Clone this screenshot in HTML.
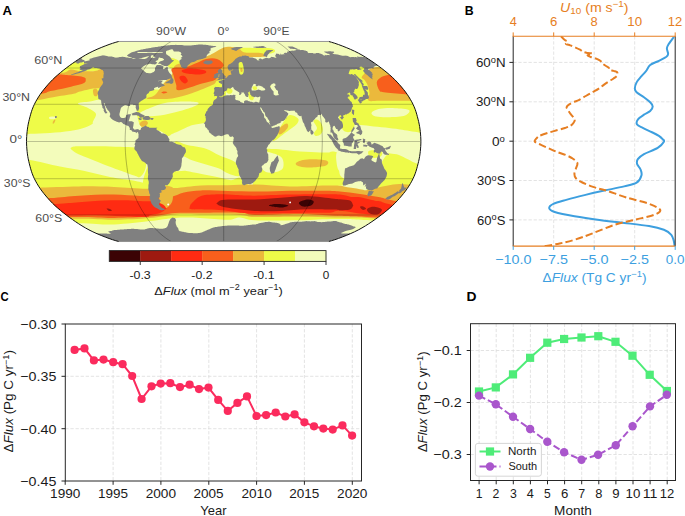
<!DOCTYPE html>
<html><head><meta charset="utf-8"><style>
html,body{margin:0;padding:0;background:#fff;width:685px;height:516px;overflow:hidden}
svg{display:block;font-family:"Liberation Sans",sans-serif}
</style></head><body>
<svg width="685" height="516" viewBox="0 0 685 516" font-family="Liberation Sans, sans-serif">
<defs><clipPath id="mc"><path d="M328.65 241.52 331.53 240.74 334.79 239.72 338.36 238.49 342.19 237.06 346.22 235.46 350.37 233.71 354.47 231.84 358.36 229.90 361.98 227.91 365.41 225.87 368.71 223.77 371.93 221.63 375.08 219.45 378.17 217.23 381.18 214.97 384.12 212.69 386.97 210.37 389.73 208.03 392.36 205.66 394.85 203.27 397.17 200.86 399.37 198.44 401.48 196.00 403.52 193.55 405.44 191.09 407.21 188.62 408.83 186.15 410.34 183.67 411.74 181.19 413.01 178.71 414.14 176.23 415.13 173.75 415.98 171.27 416.72 168.79 417.39 166.30 418.04 163.82 418.65 161.34 419.18 158.86 419.63 156.38 419.99 153.90 420.29 151.42 420.53 148.94 420.71 146.46 420.83 143.98 420.90 141.50 420.83 139.02 420.71 136.54 420.53 134.06 420.29 131.58 419.99 129.10 419.63 126.62 419.18 124.14 418.65 121.66 418.04 119.18 417.39 116.70 416.72 114.21 415.98 111.73 415.13 109.25 414.14 106.77 413.01 104.29 411.74 101.81 410.34 99.33 408.83 96.85 407.21 94.38 405.44 91.91 403.52 89.45 401.48 87.00 399.37 84.56 397.17 82.14 394.85 79.73 392.36 77.34 389.73 74.97 386.97 72.63 384.12 70.31 381.18 68.03 378.17 65.77 375.08 63.55 371.93 61.37 368.71 59.23 365.41 57.13 361.98 55.09 358.36 53.10 354.47 51.16 350.37 49.29 346.22 47.54 342.19 45.94 338.36 44.51 334.79 43.28 331.53 42.26 328.65 41.48 118.75 41.48 115.87 42.26 112.61 43.28 109.04 44.51 105.21 45.94 101.18 47.54 97.03 49.29 92.93 51.16 89.04 53.10 85.42 55.09 81.99 57.13 78.69 59.23 75.47 61.37 72.32 63.55 69.23 65.77 66.22 68.03 63.28 70.31 60.43 72.63 57.67 74.97 55.04 77.34 52.55 79.73 50.23 82.14 48.03 84.56 45.92 87.00 43.88 89.45 41.96 91.91 40.19 94.38 38.57 96.85 37.06 99.33 35.66 101.81 34.39 104.29 33.26 106.77 32.27 109.25 31.42 111.73 30.68 114.21 30.01 116.70 29.36 119.18 28.75 121.66 28.22 124.14 27.77 126.62 27.41 129.10 27.11 131.58 26.87 134.06 26.69 136.54 26.57 139.02 26.50 141.50 26.57 143.98 26.69 146.46 26.87 148.94 27.11 151.42 27.41 153.90 27.77 156.38 28.22 158.86 28.75 161.34 29.36 163.82 30.01 166.30 30.68 168.79 31.42 171.27 32.27 173.75 33.26 176.23 34.39 178.71 35.66 181.19 37.06 183.67 38.57 186.15 40.19 188.62 41.96 191.09 43.88 193.55 45.92 196.00 48.03 198.44 50.23 200.86 52.55 203.27 55.04 205.66 57.67 208.03 60.43 210.37 63.28 212.69 66.22 214.97 69.23 217.23 72.32 219.45 75.47 221.63 78.69 223.77 81.99 225.87 85.42 227.91 89.04 229.90 92.93 231.84 97.03 233.71 101.18 235.46 105.21 237.06 109.04 238.49 112.61 239.72 115.87 240.74 118.75 241.52Z"/></clipPath></defs>
<g clip-path="url(#mc)">
<path d="M328.65 241.52 331.53 240.74 334.79 239.72 338.36 238.49 342.19 237.06 346.22 235.46 350.37 233.71 354.47 231.84 358.36 229.90 361.98 227.91 365.41 225.87 368.71 223.77 371.93 221.63 375.08 219.45 378.17 217.23 381.18 214.97 384.12 212.69 386.97 210.37 389.73 208.03 392.36 205.66 394.85 203.27 397.17 200.86 399.37 198.44 401.48 196.00 403.52 193.55 405.44 191.09 407.21 188.62 408.83 186.15 410.34 183.67 411.74 181.19 413.01 178.71 414.14 176.23 415.13 173.75 415.98 171.27 416.72 168.79 417.39 166.30 418.04 163.82 418.65 161.34 419.18 158.86 419.63 156.38 419.99 153.90 420.29 151.42 420.53 148.94 420.71 146.46 420.83 143.98 420.90 141.50 420.83 139.02 420.71 136.54 420.53 134.06 420.29 131.58 419.99 129.10 419.63 126.62 419.18 124.14 418.65 121.66 418.04 119.18 417.39 116.70 416.72 114.21 415.98 111.73 415.13 109.25 414.14 106.77 413.01 104.29 411.74 101.81 410.34 99.33 408.83 96.85 407.21 94.38 405.44 91.91 403.52 89.45 401.48 87.00 399.37 84.56 397.17 82.14 394.85 79.73 392.36 77.34 389.73 74.97 386.97 72.63 384.12 70.31 381.18 68.03 378.17 65.77 375.08 63.55 371.93 61.37 368.71 59.23 365.41 57.13 361.98 55.09 358.36 53.10 354.47 51.16 350.37 49.29 346.22 47.54 342.19 45.94 338.36 44.51 334.79 43.28 331.53 42.26 328.65 41.48 118.75 41.48 115.87 42.26 112.61 43.28 109.04 44.51 105.21 45.94 101.18 47.54 97.03 49.29 92.93 51.16 89.04 53.10 85.42 55.09 81.99 57.13 78.69 59.23 75.47 61.37 72.32 63.55 69.23 65.77 66.22 68.03 63.28 70.31 60.43 72.63 57.67 74.97 55.04 77.34 52.55 79.73 50.23 82.14 48.03 84.56 45.92 87.00 43.88 89.45 41.96 91.91 40.19 94.38 38.57 96.85 37.06 99.33 35.66 101.81 34.39 104.29 33.26 106.77 32.27 109.25 31.42 111.73 30.68 114.21 30.01 116.70 29.36 119.18 28.75 121.66 28.22 124.14 27.77 126.62 27.41 129.10 27.11 131.58 26.87 134.06 26.69 136.54 26.57 139.02 26.50 141.50 26.57 143.98 26.69 146.46 26.87 148.94 27.11 151.42 27.41 153.90 27.77 156.38 28.22 158.86 28.75 161.34 29.36 163.82 30.01 166.30 30.68 168.79 31.42 171.27 32.27 173.75 33.26 176.23 34.39 178.71 35.66 181.19 37.06 183.67 38.57 186.15 40.19 188.62 41.96 191.09 43.88 193.55 45.92 196.00 48.03 198.44 50.23 200.86 52.55 203.27 55.04 205.66 57.67 208.03 60.43 210.37 63.28 212.69 66.22 214.97 69.23 217.23 72.32 219.45 75.47 221.63 78.69 223.77 81.99 225.87 85.42 227.91 89.04 229.90 92.93 231.84 97.03 233.71 101.18 235.46 105.21 237.06 109.04 238.49 112.61 239.72 115.87 240.74 118.75 241.52Z" fill="#f3fcbb"/>
<path d="M15.0 60.0C22.5 47.7 49.2 59.0 60.0 60.0C70.8 61.0 73.3 62.7 80.0 66.0C86.7 69.3 96.2 75.2 100.0 80.0C103.8 84.8 103.0 90.8 103.0 95.0C103.0 99.2 101.2 101.2 100.0 105.0C98.8 108.8 97.2 115.0 96.0 118.0C94.8 121.0 94.8 121.7 93.0 123.3C91.2 124.9 88.8 126.2 85.0 127.5C81.2 128.8 75.8 130.1 70.0 131.0C64.2 131.9 56.7 132.5 50.0 133.0C43.3 133.5 35.8 133.6 30.0 133.8C24.2 134.0 17.5 146.3 15.0 134.0C12.5 121.7 7.5 72.3 15.0 60.0Z" fill="#eefb48"/>
<path d="M340.0 90.0C355.0 85.0 415.0 82.8 430.0 90.0C445.0 97.2 431.9 126.4 430.0 133.5C428.1 140.6 423.8 133.1 418.8 132.4C413.8 131.7 405.6 130.3 400.0 129.5C394.4 128.7 390.5 128.2 385.5 127.6C380.5 127.0 374.6 126.5 370.0 126.0C365.4 125.5 361.4 125.1 357.7 124.8C354.0 124.5 350.9 124.8 348.0 124.0C345.1 123.2 341.3 125.7 340.0 120.0C338.7 114.3 325.0 95.0 340.0 90.0Z" fill="#eefb48"/>
<path d="M340.0 112.0C342.0 110.5 349.5 111.3 352.0 113.0C354.5 114.7 355.0 119.0 355.0 122.0C355.0 125.0 353.8 129.5 352.0 131.0C350.2 132.5 346.0 132.5 344.0 131.0C342.0 129.5 340.7 125.2 340.0 122.0C339.3 118.8 338.0 113.5 340.0 112.0Z" fill="#eefb48"/>
<path d="M140.0 92.0C145.8 86.2 164.2 91.3 175.0 90.0C185.8 88.7 198.3 86.0 205.0 84.0C211.7 82.0 211.7 79.0 215.0 78.0C218.3 77.0 223.5 71.8 225.0 78.0C226.5 84.2 226.5 107.7 224.0 115.0C221.5 122.3 213.3 120.7 210.0 122.0C206.7 123.3 206.9 122.5 204.0 123.0C201.1 123.5 195.8 124.2 192.8 125.0C189.9 125.8 188.8 126.5 186.3 127.6C183.8 128.7 180.4 130.4 178.0 131.5C175.6 132.6 173.7 133.2 172.0 134.0C170.3 134.8 170.0 136.5 168.0 136.0C166.0 135.5 164.7 132.8 160.0 131.0C155.3 129.2 143.3 131.5 140.0 125.0C136.7 118.5 134.2 97.8 140.0 92.0Z" fill="#eefb48"/>
<path d="M272.6 140.7C272.5 139.8 274.6 136.4 276.0 134.0C277.4 131.6 279.1 128.9 281.0 126.0C282.9 123.0 285.6 118.0 287.6 116.3C289.6 114.5 291.2 115.0 293.0 115.5C294.8 116.0 297.7 117.6 298.4 119.0C299.1 120.4 298.2 122.3 297.1 123.8C296.0 125.3 293.6 126.8 292.0 128.0C290.4 129.2 289.4 129.9 287.6 131.2C285.8 132.5 282.8 134.6 281.0 136.0C279.2 137.4 278.1 138.6 276.7 139.4C275.3 140.2 272.7 141.6 272.6 140.7Z" fill="#eefb48"/>
<path d="M313.4 121.0C313.4 119.6 315.7 119.2 317.0 119.5C318.3 119.8 320.0 121.4 321.0 123.0C322.0 124.6 322.9 127.2 322.9 129.0C322.9 130.8 322.1 132.8 321.0 134.0C319.9 135.2 317.2 136.2 316.0 136.0C314.8 135.8 313.8 134.3 314.0 133.0C314.2 131.7 317.1 130.0 317.0 128.0C316.9 126.0 313.4 122.4 313.4 121.0Z" fill="#eefb48"/>
<path d="M70.5 148.3C70.6 147.5 72.4 146.9 74.0 146.6C75.6 146.3 75.7 146.4 80.0 146.3C84.3 146.2 93.3 146.1 100.0 146.2C106.7 146.3 114.2 146.6 120.0 146.8C125.8 147.0 131.3 147.0 135.0 147.5C138.7 148.0 140.2 147.9 142.0 150.0C143.8 152.1 145.5 156.7 146.0 160.0C146.5 163.3 146.0 167.2 145.0 170.0C144.0 172.8 141.6 176.0 140.0 177.0C138.4 178.0 138.8 177.1 135.5 176.0C132.2 174.9 124.2 172.0 120.0 170.5C115.8 169.0 114.2 168.4 110.0 166.8C105.8 165.2 99.5 162.6 94.7 160.7C89.9 158.8 84.5 156.9 81.0 155.3C77.5 153.7 75.2 152.4 73.5 151.2C71.8 150.0 70.4 149.1 70.5 148.3Z" fill="#eefb48"/>
<path d="M15.0 159.0C17.5 153.2 22.5 158.8 30.0 160.0C37.5 161.2 50.9 164.7 60.0 166.5C69.1 168.3 76.4 169.2 84.7 171.0C93.0 172.8 101.5 175.3 110.0 177.0C118.5 178.7 129.5 179.7 135.5 181.0C141.5 182.3 144.2 182.7 146.0 185.0C147.8 187.3 167.8 193.3 146.0 195.0C124.2 196.7 36.8 201.0 15.0 195.0C-6.8 189.0 12.5 164.8 15.0 159.0Z" fill="#eefb48"/>
<path d="M160.0 150.0C163.0 148.7 165.8 148.7 168.0 152.0C170.2 155.3 170.0 166.5 173.1 169.7C176.2 172.9 181.9 170.3 186.3 171.0C190.7 171.7 193.9 172.5 199.4 173.6C204.9 174.7 213.8 176.5 219.1 177.6C224.4 178.7 227.5 180.1 231.0 180.2C234.5 180.3 238.2 176.4 240.0 178.0C241.8 179.6 257.0 187.2 242.0 190.0C227.0 192.8 165.3 200.0 150.0 195.0C134.7 190.0 148.3 167.5 150.0 160.0C151.7 152.5 157.0 151.3 160.0 150.0Z" fill="#eefb48"/>
<path d="M175.8 141.4C177.9 140.8 181.3 143.5 186.3 144.7C191.3 145.9 200.5 146.9 206.0 148.7C211.5 150.4 214.7 153.2 219.1 155.2C223.5 157.2 229.2 159.0 232.3 160.5C235.4 162.0 235.9 162.8 237.5 164.4C239.1 166.0 241.8 168.0 242.0 170.0C242.2 172.0 241.1 175.6 238.8 176.2C236.5 176.8 231.6 174.9 228.3 173.6C225.0 172.3 222.8 169.9 219.1 168.4C215.4 166.9 210.4 165.7 206.0 164.4C201.6 163.1 196.8 162.0 192.8 160.5C188.9 159.0 185.4 157.3 182.3 155.2C179.2 153.1 175.1 150.3 174.0 148.0C172.9 145.7 173.8 142.0 175.8 141.4Z" fill="#eefb48"/>
<path d="M383.0 160.0C385.0 156.3 386.8 155.1 388.0 154.0C389.2 152.9 388.6 153.3 390.4 153.5C392.2 153.7 396.1 154.0 399.0 155.0C401.9 156.0 404.9 157.9 407.8 159.3C410.7 160.7 412.9 162.3 416.6 163.6C420.3 164.9 427.8 162.3 430.0 167.0C432.2 171.7 440.0 187.8 430.0 192.0C420.0 196.2 379.0 194.7 370.0 192.0C361.0 189.3 373.8 181.3 376.0 176.0C378.2 170.7 381.0 163.7 383.0 160.0Z" fill="#eefb48"/>
<path d="M368.6 151.0C369.6 150.1 372.8 150.2 375.0 150.3C377.2 150.4 380.8 150.5 381.8 151.5C382.8 152.5 382.3 155.2 381.0 156.3C379.7 157.4 376.0 158.1 374.0 158.0C372.0 157.9 369.9 156.7 369.0 155.5C368.1 154.3 367.6 151.9 368.6 151.0Z" fill="#eefb48"/>
<path d="M237.0 67.0C237.7 65.8 239.8 64.8 241.0 64.5C242.2 64.2 243.7 64.2 244.5 65.0C245.3 65.8 246.1 67.4 246.0 69.0C245.9 70.6 245.1 73.5 244.0 74.5C242.9 75.5 240.7 75.4 239.5 75.0C238.3 74.6 237.4 73.3 237.0 72.0C236.6 70.7 236.3 68.2 237.0 67.0Z" fill="#eefb48"/>
<path d="M262.0 152.0C265.0 147.7 266.6 149.1 272.9 149.0C279.2 148.9 292.1 151.0 300.0 151.6C307.9 152.2 314.1 152.2 320.0 152.5C325.9 152.8 332.1 152.2 335.1 153.4C338.1 154.7 337.2 156.4 338.0 160.0C338.8 163.6 338.8 170.8 340.0 175.0C341.2 179.2 358.0 182.5 345.0 185.0C332.0 187.5 277.0 191.7 262.0 190.0C247.0 188.3 255.0 181.3 255.0 175.0C255.0 168.7 259.0 156.3 262.0 152.0Z" fill="#eefb48"/>
<path d="M330.0 152.0C331.3 150.8 336.7 151.7 338.0 153.0C339.3 154.3 339.3 158.8 338.0 160.0C336.7 161.2 331.3 161.3 330.0 160.0C328.7 158.7 328.7 153.2 330.0 152.0Z" fill="#eefb48"/>
<path d="M62.0 64.0C63.4 62.4 70.3 62.2 75.0 62.0C79.7 61.8 85.8 62.3 90.0 63.0C94.2 63.7 98.2 64.8 100.0 66.0C101.8 67.2 102.7 69.1 101.0 70.0C99.3 70.9 93.5 71.2 90.0 71.5C86.5 71.8 83.9 72.0 80.0 72.0C76.1 72.0 69.7 72.8 66.7 71.5C63.7 70.2 60.6 65.6 62.0 64.0Z" fill="#eefb48"/>
<path d="M165.0 60.0C165.3 58.3 169.5 57.7 172.0 58.0C174.5 58.3 179.0 60.3 180.0 62.0C181.0 63.7 179.7 67.0 178.0 68.0C176.3 69.0 172.2 69.3 170.0 68.0C167.8 66.7 164.7 61.7 165.0 60.0Z" fill="#eefb48"/>
<path d="M236.0 48.5C238.5 47.4 249.0 48.0 255.0 48.0C261.0 48.0 268.8 47.8 272.0 48.5C275.2 49.2 276.0 51.5 274.0 52.5C272.0 53.5 265.7 54.2 260.0 54.5C254.3 54.8 244.0 55.5 240.0 54.5C236.0 53.5 233.5 49.6 236.0 48.5Z" fill="#eefb48"/>
<path d="M348.0 66.0C350.2 63.3 359.5 62.7 363.0 64.0C366.5 65.3 368.2 70.5 369.0 74.0C369.8 77.5 368.5 81.5 368.0 85.0C367.5 88.5 367.3 92.8 366.0 95.0C364.7 97.2 362.3 98.5 360.0 98.0C357.7 97.5 353.7 95.0 352.0 92.0C350.3 89.0 350.7 84.3 350.0 80.0C349.3 75.7 345.8 68.7 348.0 66.0Z" fill="#eefb48"/>
<path d="M226.0 89.0C226.5 88.2 228.9 87.8 230.0 88.0C231.1 88.2 232.3 89.6 232.5 90.5C232.7 91.4 231.9 93.1 231.0 93.5C230.1 93.9 227.8 93.8 227.0 93.0C226.2 92.2 225.5 89.8 226.0 89.0Z" fill="#eefb48"/>
<path d="M248.0 92.5C248.3 91.3 250.5 91.4 251.5 92.0C252.5 92.6 253.8 94.7 254.0 96.0C254.2 97.3 253.8 99.5 253.0 100.0C252.2 100.5 250.3 100.2 249.5 99.0C248.7 97.8 247.7 93.7 248.0 92.5Z" fill="#eefb48"/>
<path d="M252.5 87.0C252.8 86.4 255.2 86.2 256.0 86.5C256.8 86.8 257.3 88.4 257.0 89.0C256.7 89.6 254.8 90.3 254.0 90.0C253.2 89.7 252.2 87.6 252.5 87.0Z" fill="#eefb48"/>
<path d="M267.0 84.0C267.2 83.1 268.9 82.8 269.5 83.5C270.1 84.2 270.8 87.1 270.5 88.0C270.2 88.9 268.6 89.7 268.0 89.0C267.4 88.3 266.8 84.9 267.0 84.0Z" fill="#eefb48"/>
<path d="M78.0 103.5C78.3 102.4 85.8 102.1 90.0 101.5C94.2 100.9 99.7 98.6 103.0 100.0C106.3 101.4 109.7 106.3 110.0 110.0C110.3 113.7 107.8 119.8 105.0 122.0C102.2 124.2 94.5 124.6 93.0 123.3C91.5 122.0 96.8 116.5 96.0 114.0C95.2 111.5 91.0 109.8 88.0 108.0C85.0 106.2 77.7 104.6 78.0 103.5Z" fill="#f3fcbb"/>
<path d="M140.0 113.0C140.8 111.7 145.8 109.7 150.0 108.0C154.2 106.3 159.2 104.1 165.0 103.0C170.8 101.9 179.5 101.6 185.0 101.5C190.5 101.4 196.3 101.8 198.0 102.5C199.7 103.2 198.0 104.6 195.0 106.0C192.0 107.4 185.8 109.4 180.0 111.0C174.2 112.6 165.8 114.7 160.0 115.5C154.2 116.3 148.3 116.4 145.0 116.0C141.7 115.6 139.2 114.3 140.0 113.0Z" fill="#f3fcbb"/>
<path d="M371.6 112.7C372.3 111.4 376.1 109.5 380.0 108.8C383.9 108.0 390.2 108.0 395.0 108.2C399.8 108.4 407.3 108.8 409.0 110.0C410.7 111.2 408.2 114.3 405.0 115.5C401.8 116.7 394.8 117.0 390.0 117.2C385.2 117.4 379.1 117.2 376.0 116.5C372.9 115.8 370.9 114.0 371.6 112.7Z" fill="#f3fcbb"/>
<path d="M262.0 152.0C264.0 150.0 268.7 152.0 272.0 153.0C275.3 154.0 280.2 155.5 282.0 158.0C283.8 160.5 284.0 165.7 283.0 168.0C282.0 170.3 278.8 171.3 276.0 172.0C273.2 172.7 268.7 173.2 266.0 172.0C263.3 170.8 260.7 168.3 260.0 165.0C259.3 161.7 260.0 154.0 262.0 152.0Z" fill="#f3fcbb"/>
<path d="M336.9 152.5C338.1 150.8 342.6 150.2 344.0 152.0C345.4 153.8 345.2 159.8 345.0 163.0C344.8 166.2 344.1 169.8 343.0 171.0C341.9 172.2 339.6 171.5 338.5 170.0C337.4 168.5 336.8 164.9 336.5 162.0C336.2 159.1 335.6 154.2 336.9 152.5Z" fill="#f3fcbb"/>
<path d="M15.0 60.0C22.2 54.9 49.2 70.9 58.5 72.5C67.8 74.1 67.1 69.7 70.7 69.5C74.3 69.3 76.0 71.0 80.0 71.2C84.0 71.5 91.0 71.4 95.0 71.0C99.0 70.6 102.0 67.5 104.0 69.0C106.0 70.5 107.2 77.2 107.0 80.0C106.8 82.8 104.3 84.7 103.0 86.0C101.7 87.3 100.7 87.6 99.0 88.0C97.3 88.4 96.2 87.9 93.0 88.5C89.8 89.1 83.2 90.6 80.0 91.5C76.8 92.4 78.0 92.8 73.5 93.8C69.0 94.8 59.4 96.1 53.1 97.2C46.8 98.3 41.9 99.6 35.5 100.6C29.1 101.6 18.4 109.8 15.0 103.0C11.6 96.2 7.8 65.1 15.0 60.0Z" fill="#ebb93c"/>
<path d="M93.0 90.0C93.3 88.8 95.2 88.2 96.0 88.5C96.8 88.8 97.8 90.8 98.0 92.0C98.2 93.2 97.7 95.4 97.0 96.0C96.3 96.6 94.7 96.5 94.0 95.5C93.3 94.5 92.7 91.2 93.0 90.0Z" fill="#ebb93c"/>
<path d="M362.0 76.5C363.4 74.4 368.2 68.9 372.9 67.5C377.6 66.1 380.5 67.6 390.0 68.0C399.5 68.4 423.3 64.5 430.0 70.0C436.7 75.5 433.1 95.9 430.0 101.0C426.9 106.1 420.0 100.8 411.7 100.8C403.4 100.8 387.2 100.8 380.0 100.8C372.8 100.8 370.2 101.8 368.5 100.5C366.8 99.2 369.7 95.6 369.5 93.0C369.3 90.4 368.3 87.2 367.5 85.0C366.7 82.8 365.4 81.4 364.5 80.0C363.6 78.6 360.6 78.6 362.0 76.5Z" fill="#ebb93c"/>
<path d="M146.4 98.4C146.4 97.7 152.3 97.3 155.0 95.0C157.7 92.7 159.8 88.3 162.6 84.8C165.4 81.3 170.0 77.2 172.1 74.0C174.2 70.8 172.8 67.8 174.9 65.8C177.1 63.8 180.2 63.4 185.0 62.0C189.8 60.6 198.8 59.0 203.4 57.6C208.1 56.2 209.5 55.3 212.9 53.6C216.3 51.9 220.5 48.6 223.7 47.5C226.9 46.4 229.3 46.8 231.9 47.0C234.5 47.2 236.8 47.9 239.0 48.8C241.2 49.7 241.2 51.8 245.0 52.5C248.8 53.2 258.7 52.5 262.0 53.2C265.3 53.9 267.8 55.7 265.0 56.5C262.2 57.3 250.5 56.6 245.0 58.0C239.5 59.4 234.8 62.2 232.0 65.0C229.2 67.8 230.5 72.4 228.0 75.0C225.5 77.6 219.5 79.1 217.0 80.7C214.5 82.3 217.0 82.8 212.9 84.8C208.8 86.8 199.3 90.6 192.5 92.9C185.7 95.2 178.2 97.4 172.0 98.4C165.8 99.4 159.3 99.0 155.0 99.0C150.7 99.0 146.4 99.1 146.4 98.4Z" fill="#ebb93c"/>
<path d="M221.0 62.0C222.8 60.2 229.3 60.7 232.0 61.0C234.7 61.3 236.0 62.3 237.0 64.0C238.0 65.7 238.5 68.7 238.0 71.0C237.5 73.3 236.2 76.5 234.0 78.0C231.8 79.5 227.2 81.0 225.0 80.0C222.8 79.0 221.7 75.0 221.0 72.0C220.3 69.0 219.2 63.8 221.0 62.0Z" fill="#ebb93c"/>
<path d="M278.0 131.0C278.4 129.6 280.5 127.2 282.0 126.0C283.5 124.8 286.0 123.3 287.0 123.5C288.0 123.7 288.5 125.6 288.0 127.0C287.5 128.4 285.4 130.8 284.0 132.0C282.6 133.2 280.5 134.7 279.5 134.5C278.5 134.3 277.6 132.4 278.0 131.0Z" fill="#ebb93c"/>
<path d="M295.7 163.5C296.2 162.4 299.8 160.7 303.0 160.0C306.2 159.3 311.0 159.1 315.0 159.3C319.0 159.5 325.4 160.0 327.2 161.0C329.0 162.0 328.5 164.4 326.0 165.5C323.5 166.6 316.3 167.2 312.0 167.4C307.7 167.6 302.7 167.2 300.0 166.5C297.3 165.8 295.2 164.6 295.7 163.5Z" fill="#ebb93c"/>
<path d="M139.5 123.8C139.6 122.9 141.0 121.7 142.0 121.2C143.0 120.7 144.5 120.3 145.5 120.6C146.5 120.9 148.0 122.0 148.0 123.0C148.0 124.0 146.6 125.7 145.5 126.3C144.4 126.9 142.5 126.9 141.5 126.5C140.5 126.1 139.4 124.7 139.5 123.8Z" fill="#ebb93c"/>
<path d="M10.0 200.0C81.7 196.3 368.3 195.8 440.0 200.0C511.7 204.2 452.2 221.7 440.0 225.0C427.8 228.3 384.5 221.0 367.0 220.0C349.5 219.0 346.2 218.9 335.0 218.9C323.8 218.9 313.3 220.0 300.0 220.2C286.7 220.4 265.0 220.7 255.0 220.2C245.0 219.7 244.5 217.5 240.0 217.4C235.5 217.3 234.7 219.6 228.0 219.7C221.3 219.8 208.8 218.2 200.0 217.9C191.2 217.6 183.3 217.4 175.0 217.9C166.7 218.4 160.2 219.9 150.0 221.0C139.8 222.1 125.8 224.0 114.0 224.4C102.2 224.8 96.3 223.6 79.0 223.2C61.7 222.8 21.5 225.9 10.0 222.0C-1.5 218.1 -61.7 203.7 10.0 200.0Z" fill="#eefb48"/>
<path d="M10.0 187.0C14.3 181.8 24.5 187.7 36.0 187.6C47.5 187.5 66.0 186.5 79.0 186.4C92.0 186.3 102.8 186.5 114.0 186.9C125.2 187.3 138.3 188.5 146.0 188.7C153.7 188.9 155.2 188.1 160.0 188.0C164.8 187.9 168.2 188.5 175.0 188.1C181.8 187.7 192.2 186.0 201.0 185.5C209.8 185.0 219.0 185.3 228.0 185.2C237.0 185.0 244.7 184.4 255.0 184.6C265.3 184.8 278.3 186.2 290.0 186.4C301.7 186.6 317.5 185.6 325.0 185.5C332.5 185.4 332.2 185.5 335.0 185.6C337.8 185.7 340.2 185.8 342.0 186.0C343.8 186.2 344.2 186.7 346.0 187.0C347.8 187.3 350.7 187.7 353.0 188.1C355.3 188.5 357.8 188.8 360.0 189.2C362.2 189.5 364.0 190.2 366.0 190.2C368.0 190.2 370.0 189.4 372.0 189.0C374.0 188.6 375.3 188.1 378.0 187.5C380.7 186.9 384.3 186.1 388.0 185.5C391.7 184.9 394.7 183.9 400.0 184.0C405.3 184.1 413.3 185.0 420.0 186.0C426.7 187.0 436.7 184.0 440.0 190.0C443.3 196.0 452.2 217.3 440.0 222.0C427.8 226.7 384.5 218.8 367.0 218.0C349.5 217.2 346.2 217.7 335.0 217.5C323.8 217.3 313.3 216.9 300.0 216.8C286.7 216.7 265.0 217.3 255.0 217.0C245.0 216.7 249.2 215.3 240.0 214.9C230.8 214.5 210.8 214.5 200.0 214.4C189.2 214.3 183.3 213.8 175.0 214.4C166.7 215.0 160.2 217.1 150.0 218.0C139.8 218.9 125.8 219.6 114.0 219.7C102.2 219.8 96.3 218.9 79.0 218.8C61.7 218.7 21.5 224.3 10.0 219.0C-1.5 213.7 5.7 192.2 10.0 187.0Z" fill="#ebb93c"/>
<path d="M15.0 92.0C19.3 96.0 35.0 94.0 40.9 93.8C46.8 93.6 46.1 92.1 50.4 91.1C54.7 90.1 61.3 89.0 66.7 87.7C72.1 86.5 79.8 84.9 83.0 83.6C86.2 82.2 85.7 80.7 85.7 79.6C85.7 78.5 86.2 77.7 83.0 76.9C79.8 76.2 70.8 75.5 66.7 75.1C62.6 74.6 63.0 74.7 58.5 74.2C54.0 73.7 47.2 72.7 40.0 72.0C32.8 71.3 19.2 66.7 15.0 70.0C10.8 73.3 10.7 88.0 15.0 92.0Z" fill="#f85f1c"/>
<path d="M376.8 82.2C377.1 80.1 379.0 78.8 380.7 77.6C382.4 76.4 383.7 75.8 386.9 75.2C390.1 74.6 392.8 73.9 400.0 74.0C407.2 74.1 425.0 72.3 430.0 76.0C435.0 79.7 434.1 93.0 430.0 96.0C425.9 99.0 413.2 94.9 405.5 94.3C397.8 93.7 388.2 93.0 383.8 92.3C379.4 91.6 380.3 91.7 379.1 90.0C377.9 88.3 376.5 84.3 376.8 82.2Z" fill="#f85f1c"/>
<path d="M172.1 68.5C174.1 67.1 181.6 68.0 185.7 67.1C189.8 66.2 193.2 64.5 196.6 63.1C200.0 61.8 202.7 59.7 206.1 59.0C209.5 58.3 214.1 58.0 217.0 59.0C219.9 60.0 223.5 63.1 223.7 65.1C223.9 67.1 219.7 68.8 218.3 71.2C217.0 73.6 218.3 77.4 215.6 79.4C212.9 81.4 208.1 81.6 202.0 83.4C195.9 85.2 183.2 90.0 178.9 90.2C174.6 90.4 177.1 87.3 176.2 84.8C175.3 82.3 174.2 78.0 173.5 75.3C172.8 72.6 170.1 69.9 172.1 68.5Z" fill="#f85f1c"/>
<path d="M161.3 92.6C161.3 92.3 163.0 91.6 164.0 91.6C165.0 91.5 167.4 92.0 167.4 92.3C167.4 92.6 165.0 93.5 164.0 93.6C163.0 93.6 161.3 92.9 161.3 92.6Z" fill="#f85f1c"/>
<path d="M10.0 199.0C16.7 195.8 38.5 198.7 50.0 198.1C61.5 197.5 68.3 196.3 79.0 195.7C89.7 195.1 103.8 194.5 114.0 194.6C124.2 194.7 132.3 195.8 140.0 196.0C147.7 196.2 154.8 195.8 160.0 196.0C165.2 196.2 167.0 197.5 171.0 196.9C175.0 196.3 179.0 193.6 184.0 192.5C189.0 191.4 193.7 190.6 201.0 190.4C208.3 190.2 218.2 190.9 228.0 191.1C237.8 191.3 249.7 191.6 260.0 191.6C270.3 191.6 279.2 190.9 290.0 190.8C300.8 190.7 316.7 190.7 325.0 190.8C333.3 190.9 334.2 191.0 340.0 191.5C345.8 192.0 353.3 192.9 360.0 193.9C366.7 194.9 374.3 196.2 380.0 197.3C385.7 198.4 384.0 199.1 394.0 200.7C404.0 202.3 432.3 203.8 440.0 207.0C447.7 210.2 452.2 218.3 440.0 220.0C427.8 221.7 384.5 217.7 367.0 217.0C349.5 216.3 346.2 216.3 335.0 215.8C323.8 215.3 313.3 214.1 300.0 214.0C286.7 213.9 265.0 215.2 255.0 215.0C245.0 214.8 249.2 213.0 240.0 212.6C230.8 212.2 210.8 212.6 200.0 212.7C189.2 212.8 183.3 212.4 175.0 213.0C166.7 213.6 160.2 215.7 150.0 216.5C139.8 217.3 125.8 217.8 114.0 217.9C102.2 218.0 96.3 217.2 79.0 217.0C61.7 216.8 21.5 220.0 10.0 217.0C-1.5 214.0 3.3 202.2 10.0 199.0Z" fill="#f85f1c"/>
<path d="M160.0 188.0C162.0 185.0 169.8 185.8 172.0 187.0C174.2 188.2 173.0 192.5 173.0 195.0C173.0 197.5 172.8 200.1 172.0 202.0C171.2 203.9 169.8 205.4 168.5 206.5C167.2 207.6 165.4 208.8 164.0 208.5C162.6 208.2 160.7 208.4 160.0 205.0C159.3 201.6 158.0 191.0 160.0 188.0Z" fill="#ebb93c"/>
<path d="M181.7 70.5C182.4 69.7 186.2 68.6 189.8 68.5C193.4 68.4 200.7 69.2 203.4 69.9C206.1 70.6 206.8 71.8 206.1 72.6C205.4 73.4 202.7 74.5 199.3 74.6C195.9 74.7 188.6 74.0 185.7 73.3C182.8 72.6 181.0 71.3 181.7 70.5Z" fill="#ff2b12"/>
<path d="M179.6 76.7C180.2 75.9 183.0 75.3 184.4 76.0C185.8 76.7 187.7 79.5 187.8 80.7C187.9 81.9 186.1 83.4 185.0 83.4C183.9 83.4 181.9 81.8 181.0 80.7C180.1 79.6 179.0 77.5 179.6 76.7Z" fill="#ff2b12"/>
<path d="M10.0 205.5C17.7 203.6 44.5 204.5 56.0 203.9C67.5 203.3 70.8 202.8 79.0 202.2C87.2 201.6 96.3 200.7 105.0 200.4C113.7 200.1 124.2 200.2 131.0 200.4C137.8 200.6 142.0 201.1 146.0 201.3C150.0 201.5 152.2 201.0 155.0 201.5C157.8 202.0 161.2 203.4 163.0 204.5C164.8 205.6 165.5 207.2 166.0 208.0C166.5 208.8 167.0 208.2 166.0 209.0C165.0 209.8 162.7 211.9 160.0 213.0C157.3 214.1 152.3 214.6 150.0 215.3C147.7 216.0 150.7 216.8 146.0 217.0C141.3 217.2 130.3 216.5 122.0 216.2C113.7 215.9 104.7 215.2 96.0 215.0C87.3 214.8 79.3 215.3 70.0 215.3C60.7 215.3 50.0 215.0 40.0 215.0C30.0 215.0 15.0 217.1 10.0 215.5C5.0 213.9 2.3 207.4 10.0 205.5Z" fill="#ff2b12"/>
<path d="M190.0 206.0C190.3 205.3 190.2 204.7 192.0 203.0C193.8 201.3 196.5 197.4 201.0 196.0C205.5 194.6 213.2 194.5 219.0 194.3C224.8 194.2 230.0 194.9 236.0 195.1C242.0 195.3 246.0 195.8 255.0 195.7C264.0 195.6 278.3 194.8 290.0 194.6C301.7 194.4 316.7 194.3 325.0 194.3C333.3 194.3 335.7 194.2 340.0 194.6C344.3 195.0 347.7 196.4 351.0 196.9C354.3 197.4 356.0 196.7 360.0 197.3C364.0 197.9 371.7 200.0 375.0 200.7C378.3 201.4 377.2 200.6 380.0 201.3C382.8 202.0 382.0 202.9 392.0 204.7C402.0 206.5 432.0 209.8 440.0 212.0C448.0 214.2 447.5 217.6 440.0 218.0C432.5 218.4 407.2 215.1 395.0 214.5C382.8 213.9 376.2 214.8 367.0 214.2C357.8 213.6 346.2 211.1 340.0 210.8C333.8 210.6 335.0 212.4 330.0 212.7C325.0 213.0 316.7 212.6 310.0 212.7C303.3 212.8 299.2 212.9 290.0 213.0C280.8 213.1 263.3 213.6 255.0 213.5C246.7 213.4 246.0 213.3 240.0 212.7C234.0 212.1 227.0 210.6 219.0 210.0C211.0 209.4 196.8 209.7 192.0 209.2C187.2 208.7 190.3 207.5 190.0 207.0C189.7 206.5 189.7 206.7 190.0 206.0Z" fill="#ff2b12"/>
<path d="M217.0 203.0C217.8 202.3 218.8 200.6 222.0 200.0C225.2 199.4 230.5 199.6 236.0 199.5C241.5 199.4 247.5 199.8 255.0 199.5C262.5 199.2 272.3 198.4 281.0 197.8C289.7 197.2 298.2 195.8 307.0 196.0C315.8 196.2 328.5 198.1 334.0 198.7C339.5 199.2 337.3 199.0 340.0 199.3C342.7 199.6 347.8 199.6 350.0 200.5C352.2 201.4 352.5 204.1 353.0 205.0C353.5 205.9 353.5 205.2 353.0 206.0C352.5 206.8 352.2 208.8 350.0 209.5C347.8 210.2 342.7 210.2 340.0 210.2C337.3 210.2 339.5 209.7 334.0 209.5C328.5 209.3 315.8 209.0 307.0 209.2C298.2 209.4 289.7 210.6 281.0 210.9C272.3 211.2 262.5 211.2 255.0 210.9C247.5 210.6 241.5 209.7 236.0 209.0C230.5 208.3 225.2 207.3 222.0 206.5C218.8 205.7 217.8 204.6 217.0 204.0C216.2 203.4 216.2 203.7 217.0 203.0Z" fill="#9e1a10"/>
<path d="M360.0 207.0C360.0 206.4 362.0 206.2 363.0 206.5C364.0 206.8 366.0 207.9 366.0 208.5C366.0 209.1 364.0 210.2 363.0 210.0C362.0 209.8 360.0 207.6 360.0 207.0Z" fill="#9e1a10"/>
<path d="M367.0 209.5C367.3 208.4 370.2 207.1 372.0 206.8C373.8 206.5 376.3 207.0 378.0 207.5C379.7 208.0 382.0 208.9 382.0 210.0C382.0 211.1 380.0 213.6 378.0 214.2C376.0 214.8 371.8 214.3 370.0 213.5C368.2 212.7 366.7 210.6 367.0 209.5Z" fill="#9e1a10"/>
<path d="M106.6 208.6C106.6 208.2 108.1 208.5 109.0 208.8C109.9 209.1 111.8 210.1 111.8 210.5C111.8 210.9 109.9 211.3 109.0 211.0C108.1 210.7 106.6 209.0 106.6 208.6Z" fill="#9e1a10"/>
<path d="M269.0 205.5C269.0 205.0 272.8 204.2 275.0 204.0C277.2 203.8 279.8 203.9 282.0 204.2C284.2 204.4 288.1 205.0 288.3 205.5C288.5 206.0 285.2 207.2 283.0 207.4C280.8 207.7 277.3 207.3 275.0 207.0C272.7 206.7 269.0 206.0 269.0 205.5Z" fill="#3b0304"/>
<path d="M298.8 203.0C298.8 202.0 301.3 201.1 303.0 200.5C304.7 199.9 307.2 199.3 309.0 199.5C310.8 199.7 313.4 200.5 313.7 201.5C314.0 202.5 312.8 204.7 311.0 205.5C309.2 206.3 305.0 206.9 303.0 206.5C301.0 206.1 298.8 204.0 298.8 203.0Z" fill="#3b0304"/>
<path d="M84.0 61.8 84.4 61.5 85.5 61.3 86.6 61.0 87.7 60.8 88.8 60.5 89.9 60.3 89.9 60.3 89.7 59.9 89.5 59.4 89.4 59.0 89.8 58.8 91.1 58.4 92.5 58.0 93.8 57.6 95.1 57.2 96.1 57.0 97.1 56.7 98.1 56.4 99.0 56.2 100.1 56.0 101.1 55.8 102.1 55.5 103.1 55.3 103.7 55.4 104.2 55.5 104.8 55.6 105.4 55.7 106.0 55.8 106.6 55.9 107.1 56.1 107.7 56.2 108.3 56.4 108.9 56.4 109.5 56.4 110.1 56.5 110.7 56.5 111.3 56.5 111.9 56.6 112.3 56.7 112.7 56.8 113.2 57.0 113.6 57.1 114.2 57.2 114.8 57.4 115.4 57.5 115.9 57.7 116.9 57.5 117.9 57.4 118.9 57.2 119.6 57.1 120.4 57.0 121.2 56.9 121.9 56.8 122.7 56.7 123.2 56.8 123.7 56.9 124.2 57.0 124.8 57.1 125.3 57.2 125.9 57.3 126.6 57.4 127.3 57.5 128.0 57.6 128.6 57.7 129.2 57.8 129.7 57.9 130.3 58.0 130.9 58.0 131.4 58.1 132.0 58.3 132.6 58.5 133.2 58.8 134.0 58.7 134.8 58.7 135.7 58.6 136.5 58.6 137.3 58.5 137.9 58.6 138.5 58.6 139.1 58.7 139.7 58.7 140.4 58.8 141.1 58.8 141.9 58.8 142.6 58.9 143.4 58.9 144.2 58.9 144.9 59.0 145.9 58.6 146.8 58.3 147.9 57.3 149.0 56.3 150.2 55.3 151.8 54.4 151.4 55.3 151.0 56.3 150.6 57.3 151.1 57.6 151.5 57.9 152.0 58.2 152.9 58.1 153.7 57.9 154.5 57.7 155.2 57.6 156.0 57.4 156.7 57.2 157.5 57.1 158.3 57.0 159.1 57.0 158.7 58.0 158.3 59.0 158.0 60.0 156.9 60.4 155.8 60.9 154.7 61.3 153.8 61.5 152.9 61.6 151.3 62.7 149.7 63.8 148.9 64.0 148.2 64.2 147.4 64.4 146.6 64.6 145.3 65.3 143.9 66.1 142.6 66.9 141.7 67.8 140.8 68.7 141.3 68.8 141.9 68.9 142.3 69.3 142.6 69.8 143.0 70.2 143.4 70.6 144.0 71.1 144.6 71.6 145.2 72.1 145.9 72.5 146.5 72.9 147.3 73.0 148.0 73.1 148.8 73.2 149.4 73.2 150.1 73.2 150.7 73.3 151.5 72.9 152.3 72.6 153.2 72.2 154.0 71.7 154.5 71.1 155.0 70.4 155.0 69.3 155.0 68.2 155.6 67.1 156.2 66.0 156.9 64.9 157.6 64.9 158.4 64.9 159.1 64.9 159.9 64.9 160.4 65.1 161.0 65.3 161.5 65.4 162.1 65.6 162.6 65.9 163.1 66.2 163.6 66.5 163.2 67.6 162.9 68.7 163.4 69.0 163.9 69.2 165.1 68.2 166.2 67.2 167.0 67.2 167.9 67.2 167.9 68.3 167.8 69.4 168.2 70.5 168.6 71.6 169.0 72.2 169.4 72.8 170.0 73.4 170.5 74.0 171.1 74.6 171.5 75.5 171.9 76.4 171.9 77.3 171.8 78.1 171.1 78.3 170.3 78.5 169.5 78.7 168.5 79.1 167.6 79.6 166.6 80.0 165.8 80.0 164.9 80.0 164.0 80.0 163.1 80.0 162.2 80.0 161.3 80.0 160.5 80.0 159.4 80.6 158.3 81.1 157.8 81.5 159.0 80.9 160.2 80.2 161.1 80.4 162.0 80.6 162.9 80.7 162.1 81.8 161.3 82.8 161.3 83.3 162.0 83.6 162.7 84.0 163.4 84.3 164.1 84.8 164.8 85.4 164.7 85.7 163.8 86.0 162.9 86.2 162.1 86.5 161.2 86.8 160.2 87.2 159.1 87.7 158.1 88.1 158.1 87.3 158.1 86.5 157.8 86.7 157.0 86.9 156.1 87.2 155.3 87.5 154.4 87.9 153.9 88.6 154.1 89.3 154.4 90.0 153.6 90.2 152.8 90.5 152.0 90.7 150.9 91.0 149.9 91.3 149.4 91.6 149.0 92.4 148.5 93.2 147.2 93.9 146.8 94.6 146.4 95.3 146.4 96.5 146.3 97.2 146.3 98.0 145.3 98.5 144.4 99.1 143.6 99.6 142.9 100.1 142.0 100.5 141.1 101.0 140.2 101.7 139.3 102.4 139.0 103.0 138.6 103.7 138.7 104.4 138.8 105.1 138.9 106.1 139.0 107.2 139.2 108.2 138.9 109.1 138.6 109.9 138.3 110.8 137.6 110.8 136.8 110.8 136.6 110.0 136.3 109.2 135.9 108.3 135.6 107.4 135.7 106.7 135.9 105.9 135.3 105.0 134.5 105.1 133.7 105.2 133.1 104.8 132.6 104.4 131.6 104.4 130.7 104.4 130.1 104.6 130.1 105.3 130.1 106.0 129.1 106.0 128.1 106.0 127.1 105.7 126.1 105.3 125.4 105.3 124.7 105.3 124.0 105.7 123.3 106.1 122.3 106.8 121.3 107.4 121.0 108.1 120.7 108.7 120.4 109.9 120.1 111.2 119.9 112.1 119.7 113.1 119.4 114.1 119.5 115.0 119.7 115.8 120.0 116.5 120.4 117.2 121.0 117.6 121.6 118.0 122.4 118.0 123.2 117.9 124.0 117.9 124.6 117.8 125.3 117.7 125.8 116.8 126.0 115.9 126.2 115.0 127.0 114.8 127.9 114.5 128.7 114.3 129.5 114.3 130.3 114.3 131.1 114.3 130.7 115.1 130.4 116.0 130.0 116.8 129.7 117.9 129.4 118.9 129.0 120.1 128.6 121.3 128.5 121.3 129.0 121.3 129.9 121.3 130.8 121.3 131.8 121.2 132.8 121.8 133.8 122.3 133.7 123.3 133.5 124.4 133.4 125.4 133.2 126.6 132.9 127.7 133.6 128.7 134.1 129.2 134.7 129.7 135.4 129.6 136.1 129.4 137.0 129.0 137.9 129.3 138.9 129.6 139.4 130.2 139.9 130.8 139.4 131.9 138.9 133.0 138.2 132.5 137.5 131.9 136.8 132.6 136.2 133.3 135.8 132.7 135.5 132.0 134.9 131.9 134.3 131.9 133.5 131.8 132.6 131.7 131.9 130.9 131.2 130.1 130.5 129.9 129.7 129.7 129.8 128.8 129.8 127.9 129.1 127.0 128.5 126.0 127.9 125.8 127.3 125.7 126.6 125.4 125.9 125.1 125.2 124.8 124.3 124.3 123.3 123.9 122.5 123.0 121.7 122.2 120.8 122.0 119.9 122.3 119.1 122.6 118.3 122.3 117.6 122.1 116.8 121.8 116.1 121.4 115.3 121.1 114.5 120.7 113.6 120.2 112.7 119.8 111.8 119.0 110.9 118.2 110.3 117.3 109.6 116.4 109.9 115.4 110.2 114.5 110.2 113.9 110.1 113.3 109.5 112.2 109.0 111.2 108.2 110.5 107.4 109.8 107.1 108.7 106.6 108.2 106.2 107.8 106.0 107.1 105.9 106.4 105.4 105.9 105.0 105.4 104.9 104.3 104.7 103.3 103.9 102.9 103.8 103.4 104.2 104.1 104.5 104.8 104.7 105.5 104.9 106.2 105.2 107.3 105.4 108.4 105.7 109.3 105.9 110.2 106.2 111.1 106.8 112.0 107.5 113.0 107.5 113.0 106.5 113.3 105.5 113.6 104.9 112.7 104.2 111.7 103.9 111.1 103.6 110.5 103.7 109.8 103.9 109.1 103.1 108.4 102.4 107.8 102.4 106.5 102.0 105.4 101.6 104.2 101.4 103.2 101.2 102.2 101.2 101.5 101.2 100.7 100.8 100.3 100.4 99.8 99.8 99.6 99.1 99.3 98.5 99.1 98.3 98.2 98.2 97.3 98.1 96.4 98.1 95.7 98.1 95.1 97.8 94.3 97.6 93.6 97.8 92.5 98.1 91.5 98.6 90.5 99.2 89.5 99.4 88.9 99.5 88.3 100.2 87.3 101.0 86.3 101.7 85.3 102.4 84.4 102.8 83.4 103.1 82.4 103.5 81.3 104.3 81.0 105.1 80.7 104.6 80.1 104.1 79.8 103.6 79.5 103.0 79.2 103.2 78.4 103.4 77.6 103.4 76.7 103.4 75.8 103.5 75.0 103.6 74.3 103.8 73.6 103.6 72.8 103.5 72.1 103.5 71.3 103.2 70.9 102.9 70.5 102.6 70.1 102.0 69.9 101.4 69.7 100.9 69.3 100.4 68.9 99.8 68.7 99.2 68.6 98.6 68.4 98.0 68.3 97.3 68.2 96.7 68.1 96.0 68.0 95.2 67.9 94.4 67.9 94.0 67.6 93.5 67.4 93.1 67.2 91.4 68.3 89.7 69.3 88.7 69.4 87.8 69.5 86.3 70.6 85.1 71.0 83.9 71.4 82.8 71.8 81.7 72.2 80.7 72.6 79.7 73.0 78.6 73.3 77.6 73.6 76.5 73.8 75.6 74.1 74.8 74.3 73.9 74.5 72.8 74.8 71.8 75.0 70.7 75.2 71.4 74.4 72.7 74.0 74.0 73.5 75.4 73.1 76.7 72.6 78.0 72.2 79.3 71.6 80.7 71.0 82.0 70.5 82.9 70.0 82.3 70.0 81.5 70.1 80.7 70.1 79.9 70.1 79.1 70.2 79.9 69.4 80.8 68.7 80.3 68.5 79.8 68.3 79.8 67.8 79.8 67.3 79.9 66.8 80.0 66.3 81.6 65.5 83.2 64.7 84.6 64.0 85.3 63.9 86.0 63.8 86.8 63.7 87.5 63.7 87.1 63.6 86.7 63.6 86.2 63.6 85.6 63.5 85.1 63.5 84.5 63.4 84.0 63.4 84.0 62.8 84.0 62.3ZM139.0 130.5 139.7 130.2 140.8 129.4 140.9 128.7 141.0 128.0 141.8 127.5 142.7 127.1 143.4 126.8 144.1 126.6 144.8 126.0 145.5 125.5 146.2 125.9 146.9 126.3 146.7 127.0 147.3 126.7 148.2 126.7 148.9 127.2 149.5 127.8 150.6 127.8 151.6 127.8 152.6 127.8 153.6 127.8 154.6 127.8 155.6 127.8 156.3 127.7 157.1 127.5 157.2 128.0 156.6 128.6 156.0 129.1 156.7 129.6 157.4 130.2 158.0 130.5 158.6 130.7 159.5 131.4 160.3 132.1 161.0 132.8 161.6 133.5 162.6 133.6 163.6 133.6 164.6 133.9 165.5 134.2 166.6 135.0 167.6 135.9 168.0 136.7 168.3 137.5 168.9 138.4 169.5 139.2 169.3 140.2 169.2 141.2 170.1 141.9 170.7 141.5 171.8 141.7 172.8 142.1 173.9 142.6 175.0 143.0 175.7 143.5 176.4 144.0 177.4 144.3 178.4 144.5 179.1 144.7 179.9 144.8 180.7 144.9 181.4 145.6 182.1 146.3 182.9 146.9 183.9 147.2 184.9 147.5 185.2 148.3 185.6 149.2 185.9 150.1 185.9 151.2 185.9 152.2 185.3 153.1 184.8 154.0 184.2 154.8 183.8 155.8 183.3 156.7 182.6 157.5 181.9 158.4 181.9 159.6 181.9 160.8 181.8 161.8 181.7 162.7 181.5 163.7 181.5 164.5 181.4 165.4 181.3 166.2 181.0 167.1 180.6 168.0 180.2 168.9 179.6 169.7 179.0 170.5 178.1 170.7 177.1 170.9 176.2 171.1 175.2 171.4 174.3 171.8 173.4 172.8 172.6 173.8 172.7 174.9 172.8 176.0 172.8 177.1 172.3 177.8 171.9 178.5 171.3 179.5 170.7 180.5 170.1 181.7 169.6 182.8 169.1 183.5 168.6 184.1 167.9 184.7 167.2 185.4 166.3 185.3 165.3 185.2 165.1 185.1 165.2 185.2 165.2 186.4 166.1 187.2 165.7 188.2 165.4 189.2 164.7 189.6 164.0 190.0 163.2 190.1 162.5 190.2 161.7 190.3 161.1 190.3 161.4 191.2 161.8 192.2 161.2 192.5 160.5 192.8 159.9 193.1 159.3 193.1 160.0 194.1 159.8 195.3 159.8 196.1 159.9 197.0 159.3 197.4 158.7 197.7 158.4 198.5 159.3 199.4 160.1 200.0 160.8 200.6 160.3 201.7 159.7 202.8 159.4 203.4 159.0 204.0 159.2 205.0 160.2 205.8 160.5 206.6 161.6 207.4 162.7 208.3 163.7 208.6 164.8 209.0 165.0 209.6 164.3 209.7 163.6 209.9 162.9 210.1 162.2 210.2 161.5 210.3 160.8 210.1 160.0 209.9 159.3 209.7 158.3 209.1 157.3 208.5 156.5 208.1 155.7 207.7 154.9 207.3 153.6 206.3 152.9 205.3 152.2 204.4 151.5 203.4 151.1 202.4 150.6 201.3 150.6 200.5 150.7 199.7 150.2 199.7 149.7 199.8 149.7 199.8 149.7 198.8 149.7 197.8 149.7 196.8 149.8 195.8 150.3 194.9 149.5 194.1 149.3 193.2 149.1 192.4 149.0 191.5 148.7 190.7 148.5 189.8 148.3 189.0 148.3 188.3 148.4 187.6 148.4 186.5 148.4 185.4 148.5 184.6 148.7 183.7 148.8 182.9 148.7 182.1 148.7 181.3 148.3 180.3 148.0 179.3 147.9 178.3 147.9 177.2 148.0 176.3 148.1 175.5 148.3 174.6 148.1 173.5 148.0 172.4 147.9 171.2 147.9 170.1 147.9 169.1 148.0 168.0 147.8 166.9 147.6 165.8 147.4 164.6 146.3 163.9 145.1 162.7 144.0 162.1 143.0 161.5 141.9 160.9 141.1 159.8 140.4 158.7 139.8 157.7 139.3 156.8 138.8 155.9 138.4 155.1 138.0 154.3 137.5 153.4 137.1 152.5 136.6 151.6 135.5 150.5 134.4 149.3 134.4 148.2 134.5 147.0 134.8 146.3 135.2 145.7 134.9 144.9 134.5 144.2 135.0 143.3 135.5 142.3 135.5 141.3 135.5 140.2 136.2 139.7 137.0 139.3 137.7 138.6 138.4 138.0 138.4 137.3 138.5 136.5 138.5 135.6 138.6 134.6 138.3 133.6 138.1 132.5 138.5 131.5ZM81.0 57.5 81.2 57.9 81.5 58.2 81.7 58.6 81.9 58.9 82.2 59.3 82.4 59.7 83.0 59.8 83.6 59.9 84.3 59.9 84.4 60.4 84.5 60.8 84.7 61.3 84.5 61.4 83.0 61.9 81.6 62.4 81.0 62.4 80.3 62.5 79.2 63.1 78.1 63.8 77.7 63.6 77.3 63.5 76.9 63.4 76.6 63.2 76.2 63.0 76.8 62.5 76.3 62.4 75.7 62.5 75.0 62.5 75.1 61.9 75.1 61.9 73.9 62.7 72.7 63.5 72.1 63.4 73.6 62.4 75.0 61.4 76.5 60.4 78.0 59.4 79.5 58.5ZM205.5 126.9 205.2 126.7 205.1 126.3 204.9 125.1 205.0 124.7 204.8 124.0 204.2 123.6 203.6 123.2 203.6 123.2 204.7 122.6 205.2 121.9 205.4 121.2 205.8 120.8 205.8 120.4 205.9 119.5 205.8 119.2 205.8 118.6 205.7 117.9 205.5 117.2 205.7 116.6 205.6 116.3 204.8 115.7 205.0 114.9 205.0 114.1 205.6 113.6 205.8 113.2 205.8 112.9 206.2 111.8 207.0 110.8 207.3 110.7 207.5 110.2 207.5 109.6 208.1 108.5 208.7 108.1 209.5 106.9 210.2 106.2 211.1 106.1 211.9 105.3 212.4 105.0 213.1 104.2 213.0 103.5 212.9 102.7 213.4 101.6 213.6 100.8 214.4 99.9 214.9 99.5 215.5 99.2 216.2 98.8 216.9 97.7 217.3 96.5 217.9 96.5 218.5 96.5 219.1 97.1 220.0 97.0 220.5 97.2 221.1 97.3 221.3 97.3 222.3 96.7 222.9 96.6 223.4 96.4 224.0 96.0 224.6 95.8 225.1 95.6 226.0 95.4 226.9 95.3 227.8 95.2 228.7 95.2 229.1 95.4 230.0 94.9 230.7 94.9 231.3 94.9 231.7 95.2 232.2 95.2 232.8 94.9 233.3 94.7 234.0 94.8 234.6 94.9 234.6 95.1 235.1 94.7 235.6 95.8 235.1 96.6 235.1 96.7 235.4 96.9 235.4 97.8 235.3 98.6 234.9 99.0 235.2 99.0 235.9 99.9 236.0 100.0 237.0 100.3 237.6 100.3 238.2 100.4 239.1 100.7 239.9 101.0 240.4 102.1 241.2 102.3 241.9 102.5 242.7 102.8 243.7 103.3 244.0 103.2 244.2 102.9 243.9 102.0 244.3 101.1 245.3 100.4 246.1 100.3 246.9 100.4 247.8 100.5 248.1 101.0 248.4 101.0 248.8 101.3 249.3 101.3 249.9 101.4 250.2 101.7 250.8 101.7 251.4 101.7 252.2 102.0 252.9 102.3 253.7 102.5 253.9 102.6 254.5 102.3 255.0 101.9 255.5 101.8 256.1 101.7 257.1 102.1 257.1 102.0 257.7 102.2 258.3 102.5 259.0 102.5 259.8 102.1 260.2 103.0 260.6 104.0 261.0 104.9 260.8 105.8 260.6 106.8 260.4 107.7 259.8 107.5 260.1 108.0 260.5 108.7 260.8 109.5 261.1 110.2 261.4 110.8 262.1 111.8 262.2 112.6 262.7 113.1 263.3 113.5 263.7 113.9 263.9 114.7 264.1 115.4 264.1 116.1 264.1 116.9 264.5 118.1 265.5 118.8 265.9 119.6 266.3 120.4 266.7 121.5 267.1 122.0 267.9 122.5 268.7 123.1 269.3 123.9 270.3 124.9 270.9 125.3 271.3 126.0 271.3 127.0 271.3 127.0 271.4 127.1 272.0 128.0 272.2 128.0 273.3 127.7 274.4 127.6 275.3 127.2 275.9 127.1 276.9 126.8 277.3 126.8 278.2 126.5 278.9 125.9 279.8 126.7 279.8 127.6 279.8 128.5 279.6 128.9 279.5 129.6 279.4 130.3 279.1 131.0 278.9 131.7 278.6 132.5 278.2 133.3 277.8 134.3 277.3 135.2 276.8 135.9 276.3 136.6 275.7 137.5 275.1 138.3 274.5 138.9 273.9 139.5 273.1 140.0 272.3 140.6 271.3 141.5 270.7 142.2 270.1 142.9 269.9 143.5 269.6 144.0 268.8 144.5 268.5 145.1 268.2 145.2 268.0 145.8 267.7 146.4 267.5 147.1 267.0 147.6 266.5 148.9 266.6 149.2 267.2 149.5 267.4 150.3 267.1 151.1 267.1 151.4 267.0 152.0 267.3 152.6 267.6 153.6 268.0 153.9 268.3 154.8 268.3 155.5 268.2 156.1 268.4 157.1 268.3 158.0 268.3 159.0 268.5 159.7 268.0 160.8 267.5 161.8 266.7 162.7 266.1 163.0 265.5 163.2 264.9 163.5 264.4 163.8 263.7 164.5 263.1 165.2 262.6 165.3 261.9 166.3 261.6 166.4 261.5 166.8 261.9 167.7 262.1 168.4 262.4 168.4 262.3 169.3 262.2 170.2 262.0 170.8 261.7 171.6 261.4 172.3 260.3 172.8 259.7 173.1 259.1 173.5 259.0 173.5 259.2 173.7 259.0 174.7 258.7 175.7 258.5 176.8 258.0 177.6 257.1 178.3 256.9 178.4 256.6 178.9 256.2 179.5 255.6 180.4 254.9 181.1 254.1 181.9 253.3 182.6 252.5 183.2 251.8 183.4 251.2 183.7 250.9 183.8 250.7 184.2 249.9 184.0 249.3 184.2 248.7 184.1 248.1 184.0 247.6 184.1 247.2 184.1 246.6 184.3 246.0 184.6 245.3 184.7 244.6 185.2 243.8 185.2 243.3 184.8 243.2 184.7 243.2 184.8 243.0 184.9 242.1 183.7 242.2 182.9 241.7 181.8 242.2 181.4 242.3 181.0 241.8 179.9 241.3 178.9 240.9 178.1 240.5 177.3 239.8 176.3 239.4 175.3 239.1 174.2 238.9 173.1 238.7 172.2 238.6 171.2 238.6 170.4 238.6 169.7 238.6 169.2 238.2 168.8 237.7 167.7 237.3 166.9 237.0 166.1 236.8 165.3 236.0 164.2 235.9 163.0 235.8 162.2 235.9 161.6 236.0 160.9 236.4 159.8 236.5 159.2 236.8 158.0 237.1 157.4 237.8 156.7 238.0 156.2 238.1 155.5 238.1 155.0 237.9 154.7 237.5 153.9 237.3 153.0 237.3 152.4 237.6 152.0 237.3 151.1 237.1 150.3 236.5 149.4 236.6 149.0 236.6 148.9 236.3 148.0 235.5 146.8 234.9 146.2 234.4 145.6 233.6 144.4 233.2 143.7 232.8 143.0 232.8 142.3 233.1 141.9 233.4 141.0 233.6 140.4 233.3 140.2 233.5 139.3 233.7 138.5 233.9 137.8 233.7 137.4 233.1 137.1 232.8 136.4 232.6 136.3 231.9 136.6 231.6 136.5 231.2 136.9 230.5 136.8 229.9 136.7 229.2 135.7 228.8 134.9 228.2 134.2 227.5 134.2 226.7 134.2 225.9 134.5 225.0 134.7 224.2 135.1 223.4 135.4 222.7 135.8 222.1 136.0 221.6 136.3 221.0 136.1 220.5 135.9 220.0 135.9 219.3 135.6 218.7 135.6 218.1 135.7 217.5 135.8 216.8 136.2 216.1 136.5 215.5 136.8 215.2 136.6 214.8 136.6 214.2 136.2 213.6 135.8 212.6 135.0 211.6 134.4 211.0 133.5 210.7 133.5 209.8 132.9 209.2 132.2 208.9 131.5 208.8 130.7 208.4 130.1 208.0 129.7 207.3 129.2 207.2 128.4 207.0 128.4 206.4 127.8 205.9 127.8 205.5 127.0ZM277.6 155.3 277.6 155.3 277.9 156.4 278.2 157.5 278.4 158.6 278.7 159.7 279.0 160.8 278.5 161.6 278.1 162.5 277.6 163.4 277.2 164.6 276.8 165.8 276.3 167.0 275.9 168.2 275.5 169.4 275.0 170.6 274.6 171.8 274.1 173.0 273.2 173.2 272.3 173.5 271.3 173.8 270.9 172.8 270.4 171.8 270.0 170.9 269.9 170.0 269.8 169.1 269.7 168.1 270.0 167.0 270.4 165.8 270.7 164.6 271.1 163.4 271.4 162.2 272.2 161.7 273.0 161.2 273.8 160.7 274.3 159.8 274.9 158.8 275.5 157.9 276.2 157.0 276.9 156.2ZM345.0 168.3 345.7 168.2 346.5 168.0 347.4 167.5 348.4 167.0 349.4 166.5 350.4 166.3 351.4 166.1 352.2 165.8 353.0 165.5 353.8 165.2 354.6 164.5 355.3 163.7 356.2 162.6 357.1 161.6 358.0 160.9 358.9 160.3 359.6 159.5 360.3 158.7 361.3 158.5 362.3 158.3 363.2 158.8 364.0 159.3 364.3 158.6 364.6 158.0 365.3 157.1 366.0 156.2 367.0 155.7 368.0 155.2 369.0 155.3 370.0 155.5 370.9 155.6 371.9 155.7 372.6 156.0 373.3 156.3 372.6 157.5 372.0 158.6 371.3 159.8 371.5 160.3 372.4 160.9 373.4 161.5 374.3 162.1 374.9 162.3 375.5 162.6 376.4 161.7 376.6 160.7 376.8 159.6 377.0 158.6 377.2 157.5 377.7 156.5 378.1 155.6 378.5 154.6 379.0 153.6 379.3 153.7 379.5 154.9 379.7 156.1 379.9 157.3 380.0 158.5 380.9 159.1 381.8 159.7 381.8 160.8 381.9 161.9 382.0 163.0 382.5 164.2 383.0 165.4 383.5 166.5 383.9 167.6 384.4 168.8 385.0 169.5 385.6 170.2 386.1 171.1 386.6 172.0 387.1 172.9 387.0 174.0 386.8 175.1 386.6 176.2 386.1 177.2 385.6 178.2 385.0 179.2 384.4 180.2 383.5 181.0 382.6 181.9 381.7 182.7 380.8 183.7 380.0 184.7 379.2 185.7 378.5 186.6 377.8 187.6 377.1 188.5 376.2 188.6 375.4 188.8 374.6 188.9 373.3 189.7 371.9 190.4 371.2 190.4 370.5 190.3 369.8 190.2 369.1 190.2 368.4 189.9 367.7 189.6 367.1 189.4 366.4 189.1 366.2 188.4 366.0 187.7 366.1 186.8 366.2 185.8 364.8 186.9 364.7 186.8 365.2 185.7 365.6 184.6 366.0 183.6 364.6 184.5 363.3 185.5 363.2 184.4 363.1 183.3 362.9 182.3 362.2 181.9 361.5 181.5 360.8 181.1 360.0 181.2 359.3 181.2 358.5 181.2 357.4 181.5 356.3 181.8 355.2 182.1 354.3 182.6 353.4 183.1 352.5 183.6 351.6 183.7 350.8 183.8 350.0 183.9 349.2 184.0 348.2 184.3 347.3 184.7 346.4 185.1 345.4 185.5 344.6 185.5 343.8 185.5 343.0 185.5 342.8 184.3 342.6 183.2 343.0 182.1 343.4 181.0 343.8 179.9 344.2 178.8 344.2 177.7 344.3 176.6 344.3 175.6 344.3 174.5 344.5 173.2 344.6 172.0 344.7 170.8 344.9 169.6ZM368.7 191.0 369.6 191.0 370.5 191.1 371.3 191.1 372.2 191.2 373.1 191.2 374.0 191.3 373.3 192.3 372.6 193.4 371.9 194.4 371.1 195.4 370.1 195.8 369.0 196.1 368.0 196.5 367.7 195.6 367.4 194.7 367.7 193.8 368.1 192.9 368.4 191.9ZM402.1 183.6 402.7 183.2 403.0 184.1 403.4 184.9 403.7 185.7 403.9 186.6 404.1 187.5 405.0 187.6 406.0 187.7 406.9 187.8 406.0 188.7 405.0 189.7 404.1 190.6 403.5 190.7 403.0 190.7 402.0 191.6 401.0 192.4 400.0 193.2 399.0 193.2 398.0 193.2 398.8 192.2 399.5 191.1 399.2 190.3 400.1 189.4 401.1 188.6 401.3 187.5 401.5 186.5 401.7 185.4 401.9 184.5ZM398.1 191.0 398.4 191.6 398.7 192.2 399.0 192.7 397.6 193.9 396.2 195.1 394.5 196.2 393.4 196.6 392.3 197.0 391.3 197.9 390.3 198.7 389.1 199.2 387.9 199.7 387.2 199.5 386.6 199.3 385.9 199.1 385.2 198.8 386.4 197.8 387.6 196.8 389.0 196.2 390.3 195.5 391.7 194.9 393.1 194.3 394.1 193.6 395.2 192.9 396.6 192.0ZM359.0 100.1 358.6 99.6 359.0 98.7 359.4 97.8 359.8 96.9 360.8 96.9 361.8 96.8 362.8 96.8 363.0 95.7 363.1 94.6 364.1 95.2 364.5 94.6 364.8 94.0 364.6 93.1 364.4 92.1 364.2 91.1 363.8 90.4 363.5 89.6 364.2 89.7 364.9 89.7 365.6 89.8 366.4 90.7 367.2 91.7 367.9 92.7 367.9 93.4 367.8 94.2 368.2 94.9 368.6 95.7 368.8 96.6 369.0 97.4 368.6 98.6 368.0 98.8 367.5 99.0 366.6 99.1 365.8 99.1 365.6 99.6 364.9 99.9 364.2 100.2 363.6 100.5 363.6 100.5 363.4 99.9 363.2 99.2 362.5 99.3 361.7 99.4 360.8 99.6 359.9 99.8ZM357.7 99.9 358.3 99.5 358.9 99.2 359.4 98.8 360.5 99.6 361.6 100.4 361.6 101.3 361.7 102.2 361.7 103.1 360.8 103.2 360.0 103.4 359.3 102.3 358.5 101.1ZM360.8 100.7 360.7 100.7 361.3 99.9 361.9 99.1 362.4 98.4 363.4 99.0 364.3 99.6 363.7 100.2 363.1 100.8 362.5 101.4 361.6 101.1ZM364.1 91.1 363.8 90.8 363.4 89.8 363.0 88.8 362.6 87.8 362.2 86.7 361.9 85.6 361.5 84.5 362.8 85.2 364.1 85.9 365.1 85.9 366.2 86.0 367.2 86.1 367.7 87.2 368.2 88.3 367.9 89.2 367.5 90.1 366.7 89.8 365.9 89.6 365.1 89.4 364.6 90.2ZM362.4 85.3 361.6 84.3 360.9 83.2 360.1 82.1 359.3 81.1 358.5 80.0 357.7 79.0 356.8 77.9 356.1 77.0 355.4 76.1 354.7 75.2 353.9 74.3 354.5 74.1 355.1 74.0 356.0 75.0 356.9 75.9 357.8 76.8 358.7 77.8 359.8 78.7 361.0 79.6 362.1 80.5 363.2 81.5 362.4 81.5 361.5 81.5 362.4 82.4 363.2 83.4 364.1 84.3 363.5 84.7 362.9 85.0ZM351.7 113.1 351.9 111.9 352.0 110.7 352.1 109.4 353.2 109.8 354.3 110.1 354.2 111.2 354.1 112.2 354.1 113.2 354.0 114.3 353.8 115.3 352.8 114.2ZM339.9 117.5 340.7 117.0 341.6 116.4 342.4 115.9 343.2 116.5 344.0 117.2 343.3 118.0 342.6 118.9 342.0 119.7 340.9 118.6ZM352.6 118.0 353.7 118.0 354.8 118.0 355.8 118.0 356.1 118.8 356.4 119.7 356.7 120.6 356.4 121.2 356.0 121.9 357.0 122.5 357.9 123.2 358.8 123.8 358.9 124.8 359.1 125.8 359.2 126.7 359.1 126.8 358.3 126.2 357.5 125.6 356.7 124.9 355.8 124.9 354.9 124.9 354.2 123.8 353.6 122.6 352.9 121.4 352.8 120.3 352.7 119.1ZM356.1 133.1 356.0 132.8 356.8 132.3 357.5 131.8 358.3 131.4 359.1 130.4 359.8 129.4 360.6 128.4 361.2 129.5 361.8 130.5 362.4 131.5 362.2 132.4 362.1 133.2 361.9 134.0 361.2 134.6 360.4 135.3 359.7 134.6 359.0 133.9 358.1 133.7 357.1 133.4ZM357.3 126.8 358.2 126.2 359.1 125.7 359.9 125.2 360.3 126.3 360.6 127.3 360.9 128.4 361.2 129.5 360.2 129.8 359.3 130.0 358.4 130.3 357.6 129.7 356.7 129.1 355.9 128.6 356.6 127.7ZM350.9 131.5 351.5 130.5 352.1 129.4 352.7 128.4 353.3 127.4 353.9 126.4 354.0 126.4 354.4 127.5 354.7 128.6 353.9 129.8 353.1 130.9 352.2 132.0 351.5 131.7ZM342.6 139.2 343.6 138.5 344.6 138.2 345.6 138.0 346.4 137.5 347.1 137.1 347.9 136.2 348.6 135.4 349.7 134.4 350.6 133.2 351.6 131.9 352.1 132.8 352.7 133.6 353.5 134.1 354.3 134.6 355.1 135.0 355.1 135.0 354.2 135.7 353.3 136.3 353.2 137.0 353.1 137.7 353.7 138.7 354.3 139.7 354.9 140.6 354.1 140.8 353.3 141.0 353.1 141.7 352.8 142.4 351.8 143.6 351.8 144.6 351.7 145.5 351.7 146.5 350.8 146.5 349.9 146.5 349.0 146.5 348.1 146.3 347.3 146.0 346.6 145.9 345.9 145.8 344.9 145.7 343.9 145.6 343.8 144.6 343.7 143.6 343.2 142.6 342.6 141.7 342.6 140.4ZM327.0 134.1 327.1 133.8 328.0 134.0 328.9 134.2 329.7 134.4 330.6 134.5 331.7 135.8 332.8 137.0 333.9 138.3 334.8 139.2 335.7 140.2 336.7 141.2 337.6 142.2 338.0 142.9 338.5 143.6 339.4 144.3 340.3 145.1 340.2 146.1 340.1 147.1 340.0 148.2 339.8 149.2 338.8 149.3 337.8 149.4 337.0 148.5 336.1 147.7 335.3 146.8 334.8 146.0 334.2 145.1 333.7 144.3 333.2 143.2 332.6 142.0 332.1 140.9 331.5 139.8 330.8 139.2 330.1 138.5 329.3 137.4 328.6 136.3 327.8 135.2ZM337.8 150.2 338.6 149.2 339.5 148.2 340.4 148.5 341.4 148.7 342.4 149.0 343.3 149.0 344.2 148.9 345.1 148.9 346.1 149.2 347.1 149.5 347.8 150.0 348.6 150.4 349.3 150.8 349.2 151.9 349.1 152.9 348.3 152.8 347.4 152.6 346.5 152.5 345.7 152.4 344.8 152.2 344.0 152.1 343.2 152.0 342.3 151.8 341.5 151.7 340.6 151.3 339.7 151.0 338.7 150.6ZM348.3 151.6 348.5 151.1 349.5 151.1 350.5 151.1 351.6 151.2 352.6 151.2 353.7 151.2 354.8 151.2 355.9 151.2 357.0 151.1 357.7 151.1 358.4 151.1 359.2 151.1 360.2 151.2 361.2 151.2 362.3 151.2 363.3 151.3 363.4 151.6 362.4 152.5 361.4 153.4 360.6 153.8 359.7 154.3 358.8 154.8 358.1 154.3 357.4 153.7 356.7 153.2 355.6 153.2 354.6 153.2 353.5 153.2 352.7 153.2 351.8 153.2 351.0 153.1 350.1 153.1 349.2 152.3ZM353.6 148.9 353.8 147.8 353.9 146.8 354.0 145.8 354.1 144.7 354.3 143.7 354.4 142.7 354.5 141.6 354.7 140.8 355.0 140.0 356.0 139.8 357.1 139.6 358.1 139.5 359.2 139.3 360.2 139.1 361.2 138.9 361.5 139.9 360.5 140.2 359.6 140.4 358.7 140.7 357.8 141.0 356.9 141.3 357.1 142.2 358.0 142.1 358.8 142.1 359.7 142.0 359.8 142.7 359.0 143.1 358.2 143.5 357.4 144.0 358.0 145.1 358.5 146.3 359.0 147.5 358.0 147.7 356.9 148.0 356.5 146.8 356.0 145.7 356.0 146.8 356.0 147.8 356.0 148.9 355.2 148.9 354.4 148.9ZM366.3 143.0 367.2 142.5 368.0 141.9 368.8 141.4 369.8 141.8 370.9 142.2 371.2 143.0 371.5 143.9 371.7 144.7 372.6 144.1 373.4 143.4 374.2 142.7 375.2 143.1 376.3 143.5 377.3 143.8 378.3 144.2 379.2 144.6 380.1 145.0 380.9 145.4 381.8 145.8 382.7 146.2 383.2 147.0 383.7 147.8 384.7 148.2 385.8 148.6 385.0 149.9 385.5 150.5 385.9 151.2 386.6 152.1 387.1 153.0 388.1 153.6 389.1 154.3 388.9 154.9 388.1 154.8 387.2 154.8 386.3 154.7 385.5 154.7 384.6 154.4 383.7 154.1 383.2 153.1 382.8 152.0 382.2 151.8 381.6 151.5 380.8 152.1 380.5 152.8 380.3 153.5 379.3 153.4 378.3 153.4 377.4 153.3 376.4 152.7 375.4 152.1 374.7 152.4 374.0 152.6 373.8 151.7 373.7 150.7 374.5 149.6 374.2 148.9 373.8 148.2 373.0 148.0 372.3 147.7 371.5 147.5 370.5 147.1 369.6 146.7 368.8 146.1 368.0 145.5 367.2 144.9 367.3 144.7 367.9 144.5 367.1 143.8ZM362.8 138.6 363.7 138.8 364.5 139.0 365.3 139.2 365.2 140.2 365.0 141.2 364.8 142.2 364.6 143.2 363.7 142.9 362.9 142.5 362.9 141.5 362.9 140.5 362.9 139.6ZM363.4 144.6 364.4 144.7 365.5 144.8 366.6 144.9 367.7 145.0 367.2 145.9 366.8 146.8 365.9 146.7 365.1 146.6 364.2 146.6 363.3 146.5 363.3 145.6ZM385.4 148.1 386.4 147.6 387.5 147.2 388.6 146.7 389.7 146.3 390.7 145.8 390.9 146.0 390.5 146.9 390.1 147.9 389.7 148.8 388.9 149.0 388.1 149.3 387.2 149.6 386.4 149.8 385.9 148.9ZM310.3 128.6 310.5 128.5 311.4 129.4 312.3 130.4 313.1 131.3 313.4 132.1 313.7 133.0 312.8 134.0 311.8 135.0 311.1 134.1 310.4 133.3 310.4 132.1 310.4 130.9 310.4 129.8ZM217.4 79.8 218.0 79.3 218.7 78.8 219.3 78.4 218.6 78.2 217.9 78.1 217.9 77.7 218.6 77.2 219.3 76.7 219.1 76.1 218.9 75.4 219.6 75.2 220.4 75.0 220.4 74.8 219.7 74.7 219.1 74.5 218.4 74.0 217.7 73.4 218.2 72.3 217.9 71.5 217.6 70.8 218.4 69.9 219.1 69.1 219.7 69.1 220.3 69.1 220.9 69.1 221.7 69.9 222.6 70.7 222.3 71.5 222.1 72.4 222.6 72.8 223.2 73.5 223.8 74.2 224.3 75.3 225.0 75.8 225.8 76.2 225.6 77.1 225.4 78.0 225.3 78.9 224.4 79.0 223.5 79.2 222.7 79.3 221.8 79.4 220.9 79.5 220.1 79.8 219.2 80.0 218.4 80.2 217.6 80.5ZM218.3 77.5 217.4 77.8 216.6 78.1 215.7 78.4 214.9 78.2 214.1 78.1 213.3 78.0 213.8 77.1 214.4 76.1 214.2 75.3 213.9 74.5 214.8 74.2 215.7 73.8 216.3 73.3 216.8 72.9 217.5 73.0 218.2 73.0 218.9 73.1 218.7 74.1 218.6 75.0 218.5 75.9 218.4 76.7ZM205.0 64.0 204.3 63.6 203.7 63.3 203.0 62.9 203.7 62.1 204.5 61.2 205.2 60.4 205.9 60.5 206.7 60.5 207.5 60.6 208.2 60.6 209.0 60.7 209.6 60.6 210.3 60.6 210.9 60.6 211.6 60.6 212.1 61.1 212.5 61.7 213.0 62.3 212.1 63.0 211.2 63.7 210.5 63.9 209.8 64.1 209.1 64.4 208.4 64.6 207.8 64.5 207.1 64.4 206.4 64.3 205.7 64.1ZM230.8 49.0 230.7 48.7 231.4 48.4 232.0 48.2 232.6 47.9 233.2 47.7 233.9 47.4 234.5 47.2 235.1 47.2 235.8 47.1 236.5 47.1 237.1 47.1 237.8 47.1 238.5 47.1 239.1 47.1 239.8 47.0 240.5 47.0 241.1 47.0 241.8 47.0 242.4 47.0 242.7 47.5 242.1 47.8 241.6 48.0 241.0 48.2 240.4 48.5 239.8 48.7 239.2 49.0 238.7 49.3 238.2 49.6 237.7 50.0 237.1 50.3 236.6 50.7 236.0 51.0 235.4 50.8 234.8 50.6 234.1 50.3 233.5 50.1 232.8 49.9 232.1 49.6 231.5 49.3ZM263.3 55.8 263.3 55.8 263.6 55.0 263.9 54.2 264.2 53.5 264.4 52.7 264.8 52.3 265.2 51.9 265.6 51.5 265.9 51.1 266.2 50.7 266.6 50.3 267.2 50.2 267.9 50.2 268.6 50.1 269.3 50.1 269.9 50.0 270.6 50.0 271.3 49.9 271.9 49.9 272.6 49.9 273.2 50.5 272.8 50.8 272.3 51.1 271.8 51.3 271.3 51.6 270.8 51.9 270.3 52.2 269.8 52.5 269.4 53.0 269.0 53.5 268.5 54.0 268.1 54.5 267.6 55.0 267.4 55.6 267.2 56.3 267.0 56.9 266.1 56.7 265.2 56.4 264.2 56.1ZM290.3 48.8 289.4 48.0 288.4 47.3 287.5 46.6 288.1 46.6 288.7 46.6 289.4 46.6 290.0 46.6 290.6 46.6 291.2 46.5 291.9 46.5 292.5 46.5 294.1 47.2 295.8 48.0 297.5 48.8 297.7 49.0 297.1 49.0 296.4 49.0 295.7 48.9 295.0 48.9 294.4 48.9 293.7 48.9 293.0 48.9 292.3 48.8 291.7 48.8 291.0 48.8ZM323.7 51.8 323.5 51.7 324.2 51.7 324.8 51.6 325.5 51.6 326.1 51.5 326.7 51.5 327.3 51.4 328.0 51.4 328.6 51.3 329.2 51.3 329.9 51.2 330.7 51.3 331.6 51.4 332.4 51.5 333.3 51.6 334.3 52.1 334.0 52.4 333.7 52.7 333.5 53.0 333.2 53.3 332.9 53.6 332.6 53.8 332.3 54.1 331.5 54.1 330.7 54.0 330.0 53.9 329.2 53.9 328.4 53.8 327.7 53.7 325.7 52.8ZM253.6 47.4 253.3 46.8 253.9 46.8 254.5 46.7 255.1 46.7 255.7 46.6 256.3 46.6 256.9 46.5 257.5 46.5 258.0 46.4 258.6 46.4 259.2 46.3 259.8 46.3 260.4 46.2 261.0 46.2 261.6 46.1 262.1 46.1 262.7 46.0 263.3 46.0 264.3 46.4 265.4 46.9 266.4 47.4 266.6 47.7 266.0 47.8 265.3 47.8 264.7 47.8 264.0 47.8 263.4 47.9 262.7 47.9 262.0 47.9 261.4 48.0 260.7 48.0 260.1 48.0 259.4 48.0 258.8 48.1 258.1 48.1 257.3 48.0 256.6 47.9 255.8 47.7 255.1 47.6 254.4 47.5ZM131.5 113.7 132.7 113.3 133.8 112.8 134.9 112.4 136.0 111.9 137.0 112.0 137.9 112.2 138.8 112.3 139.7 112.9 140.5 113.4 141.4 114.0 142.2 114.4 143.1 114.8 143.9 115.2 144.8 115.6 144.4 116.6 144.0 117.5 143.0 117.6 142.0 117.6 141.0 117.7 139.9 117.8 139.5 116.9 139.0 116.0 138.1 115.7 137.1 115.4 136.1 115.1 135.3 115.2 134.4 115.3 133.6 115.3 132.7 115.4 132.1 114.6ZM142.7 118.3 143.6 117.5 144.5 116.8 145.4 116.0 146.5 116.1 147.5 116.1 148.6 116.1 149.3 116.8 150.1 117.4 150.8 118.0 150.4 118.8 150.0 119.6 149.1 119.7 148.1 119.9 147.3 119.9 146.6 119.9 145.9 119.9 144.9 119.8 144.0 119.7 143.0 119.6 142.8 118.9ZM138.4 118.2 138.5 118.0 139.4 118.1 140.4 118.2 141.3 118.4 142.3 118.5 142.3 118.8 141.6 119.4 140.8 120.0 140.0 119.9 139.2 119.7 138.8 119.0ZM150.8 118.0 151.8 118.0 152.7 118.1 153.7 118.2 153.3 119.0 152.9 119.7 152.1 119.7 151.4 119.7 150.6 119.7 150.7 118.8ZM165.5 83.2 165.5 82.6 166.6 82.0 167.8 81.3 168.9 80.6 170.0 80.0 170.5 78.9 171.1 77.9 171.6 76.8 172.1 77.6 172.6 78.4 173.1 79.2 173.6 80.0 173.4 81.0 173.3 82.1 173.1 83.1 172.2 83.6 171.2 84.1 170.6 83.8 170.0 83.5 169.4 83.2 168.6 83.2 167.8 83.2 167.0 83.2 166.2 83.2ZM101.8 78.5 102.8 78.2 103.8 78.0 104.3 78.4 104.9 78.8 105.4 79.3 105.5 80.1 105.7 81.0 105.9 81.9 105.5 82.3 104.7 82.2 103.9 82.1 103.1 82.1 102.8 81.4 102.5 80.7 102.2 80.0 101.9 79.4 101.6 78.7ZM126.9 55.4 128.1 54.6 129.3 53.8 130.5 53.0 131.8 52.3 132.8 52.0 133.9 51.7 134.9 51.4 135.9 51.1 137.0 50.8 137.9 50.5 138.8 50.3 139.6 50.0 140.5 49.8 141.4 49.6 142.3 49.5 143.1 49.3 144.0 49.1 144.9 49.0 145.7 48.8 146.6 48.6 147.4 48.5 148.2 48.3 149.0 48.2 149.8 48.0 150.6 47.9 151.3 47.7 152.1 47.6 153.0 47.5 153.8 47.3 154.7 47.2 155.5 47.1 156.3 47.0 157.2 46.9 158.0 46.8 158.7 46.6 159.5 46.5 160.2 46.4 160.9 46.2 161.7 46.1 162.4 46.0 163.1 45.9 163.8 45.8 164.5 45.7 165.2 45.6 165.9 45.6 166.5 45.5 167.2 45.4 167.9 45.3 168.6 45.2 169.2 45.2 169.9 45.2 170.5 45.1 171.1 45.1 171.8 45.0 172.4 45.0 173.0 45.0 173.7 44.9 174.3 44.9 174.9 44.9 175.6 44.8 176.1 44.8 176.7 44.9 177.3 44.9 177.8 44.9 178.4 44.9 179.0 44.9 179.5 44.9 180.1 45.0 180.7 45.0 181.2 45.0 181.8 45.0 182.3 45.1 182.9 45.2 183.4 45.3 183.9 45.4 184.5 45.5 184.2 45.9 183.3 46.2 182.4 46.5 181.6 46.8 180.6 47.1 179.9 47.2 179.2 47.4 178.4 47.6 177.7 47.8 176.9 48.0 176.1 48.2 175.4 48.3 174.5 48.6 173.6 48.8 172.7 49.0 171.8 49.2 170.9 49.4 169.8 49.8 168.7 50.2 167.6 50.6 167.0 50.8 166.3 51.0 165.9 51.8 166.0 52.6 166.1 53.4 166.2 54.2 166.7 54.5 167.2 54.8 167.7 55.2 168.2 55.5 168.8 55.9 169.3 56.2 169.7 56.6 170.0 57.0 170.4 57.4 170.8 57.8 171.1 58.5 171.5 59.1 171.9 59.8 172.5 60.0 173.1 60.2 173.6 60.3 174.2 60.5 174.2 60.6 173.2 61.3 172.3 62.0 171.4 62.8 170.2 63.9 169.0 65.0 168.2 65.6 167.4 66.3 166.6 66.2 165.9 66.1 165.2 66.0 164.5 65.9 163.9 65.7 163.3 65.5 162.7 65.3 162.2 65.1 161.6 64.7 161.0 64.3 160.4 63.8 159.8 63.8 159.1 63.8 158.5 63.7 157.9 63.7 158.9 62.6 159.9 61.5 160.7 61.2 161.5 61.0 162.3 60.7 163.1 60.4 164.2 59.5 163.7 59.1 163.2 58.8 162.8 58.4 162.3 58.1 161.6 58.0 160.9 57.9 160.3 57.7 159.6 57.6 158.9 57.6 158.3 57.6 157.7 57.6 157.0 57.6 156.4 57.6 155.9 57.5 155.4 57.3 154.9 57.2 154.4 57.1 154.0 56.6 153.7 56.1 153.3 55.6 153.0 55.1 152.0 55.3 151.1 55.6 150.1 55.8 149.1 56.1 148.1 56.3 147.1 56.6 146.1 56.8 145.1 57.1 144.3 57.3 143.4 57.6 142.5 57.8 141.7 58.1 140.8 58.3 140.1 58.3 139.4 58.4 138.7 58.4 137.9 58.4 137.2 58.4 136.5 58.4 135.8 58.4 135.2 58.3 134.6 58.3 134.1 58.2 133.5 58.1 132.9 58.0 132.3 57.9 131.9 57.7 131.4 57.6 130.9 57.4 130.5 57.2 130.0 57.1 129.6 56.9 129.1 56.8 128.7 56.7 128.2 56.6 127.9 56.3 127.5 56.0 127.2 55.7ZM150.5 64.0 150.2 63.6 149.8 63.2 150.8 62.3 151.8 61.5 152.8 60.6 153.4 60.7 154.1 60.8 154.7 60.8 155.4 60.9 155.8 61.4 156.3 61.9 156.8 62.3 157.3 62.8 156.2 63.7 155.1 64.5 154.4 64.4 153.6 64.3 152.8 64.3 152.1 64.2 151.3 64.1ZM172.9 49.5 172.5 49.4 172.8 48.8 173.0 48.2 173.3 47.6 174.0 47.5 174.7 47.4 175.4 47.3 176.0 47.3 176.7 47.2 177.3 47.2 177.9 47.1 178.5 47.1 179.4 46.7 180.2 46.4 181.0 46.2 181.8 46.0 182.5 45.8 183.2 45.7 183.8 45.7 184.5 45.6 185.1 45.6 185.7 45.6 186.3 45.6 186.9 45.6 187.5 45.6 188.1 45.6 188.6 45.6 189.2 45.6 189.8 45.6 190.6 45.5 191.3 45.4 192.0 45.3 192.7 45.3 193.4 45.2 194.0 45.1 194.7 45.0 195.3 45.0 195.9 44.9 196.6 44.8 197.2 44.7 197.8 44.7 198.5 44.6 199.1 44.5 199.7 44.6 200.2 44.6 200.8 44.6 201.4 44.6 202.0 44.6 202.6 44.6 203.1 44.7 203.7 44.7 204.3 44.7 204.9 44.7 205.5 44.7 206.0 44.7 206.6 44.9 207.1 45.0 207.7 45.1 208.2 45.2 208.8 45.3 209.3 45.4 209.9 45.5 210.5 45.6 211.1 45.7 211.7 45.7 212.4 45.8 213.0 45.9 213.6 45.9 214.3 46.0 214.9 46.1 215.6 46.1 216.2 46.2 216.2 46.7 215.5 46.8 214.9 47.0 214.3 47.2 213.7 47.3 213.1 47.5 212.5 47.7 211.8 47.8 211.1 48.2 210.3 48.7 210.6 49.4 211.0 50.1 210.2 50.7 209.5 51.4 208.7 52.0 209.3 52.3 209.9 52.7 209.8 52.9 209.0 53.3 208.2 53.7 207.4 54.0 207.5 54.9 207.0 55.0 206.6 55.1 206.9 55.3 206.7 56.0 206.5 56.7 206.3 57.4 205.6 57.7 204.9 57.9 204.2 58.2 203.6 58.5 202.9 58.7 202.2 58.9 201.5 59.1 200.8 59.3 200.1 59.4 199.4 59.6 198.6 59.7 197.9 59.9 197.2 60.0 196.5 60.5 195.7 61.0 195.0 61.5 194.3 61.7 193.6 61.9 192.9 62.1 192.2 62.3 191.3 62.6 190.4 62.9 189.9 63.7 189.2 64.3 188.6 64.8 187.9 65.4 187.3 66.0 187.4 67.0 186.6 67.8 185.7 68.6 184.9 68.4 184.2 68.3 183.4 68.1 182.7 68.0 182.1 67.5 181.6 67.1 181.0 66.7 180.9 66.0 180.7 65.2 180.3 64.5 179.9 63.7 179.7 62.9 179.4 62.1 179.5 61.2 179.6 60.3 180.4 59.8 181.2 59.3 182.0 58.7 181.5 58.5 181.0 58.3 180.5 58.1 180.6 57.9 181.6 57.3 182.7 56.6 182.2 56.3 181.8 56.0 181.7 55.5 181.6 54.9 181.1 54.9 180.6 54.9 181.0 54.3 181.5 53.6 181.2 53.3 181.0 53.1 180.7 52.6 180.5 52.0 179.9 51.9 179.4 51.7 178.9 51.5 178.2 51.5 177.5 51.5 176.7 51.5 176.0 51.5 175.3 51.5 174.6 51.5 173.9 51.5 173.6 51.0 173.3 50.6 173.0 50.1 172.7 49.7ZM95.7 233.3 96.5 233.3 97.2 233.3 97.9 233.4 98.7 233.4 99.4 233.4 100.1 233.4 100.9 233.5 101.6 233.5 102.3 233.5 103.1 233.5 103.8 233.6 104.5 233.6 105.2 233.6 106.0 233.6 106.7 233.6 107.4 233.7 108.1 233.7 108.9 233.7 109.6 233.7 110.3 233.7 111.0 233.7 110.0 233.0 109.0 232.2 108.0 231.4 108.5 231.4 109.0 231.3 109.5 231.2 110.1 231.1 110.6 231.1 111.1 231.0 111.6 230.9 112.0 230.7 112.3 230.4 112.8 230.4 113.3 230.3 113.8 230.2 114.3 230.1 114.8 230.0 115.3 230.0 115.8 229.9 116.4 229.9 117.0 229.9 117.6 229.8 118.2 229.8 118.7 229.8 119.4 229.7 120.1 229.6 120.7 229.6 121.4 229.5 122.1 229.5 122.8 229.4 123.5 229.4 124.2 229.3 124.9 229.3 125.6 229.3 126.1 229.2 126.7 229.2 127.3 229.1 127.8 229.1 128.4 229.0 129.0 229.0 129.5 228.9 130.1 228.9 130.7 228.9 131.3 228.8 131.9 228.8 132.5 228.8 133.2 228.8 133.9 228.8 134.5 228.9 135.2 228.9 135.9 228.9 136.6 229.0 137.4 229.1 138.3 229.2 139.2 229.3 140.0 229.4 140.9 229.5 141.7 229.5 142.4 229.5 143.1 229.5 143.9 229.5 144.6 229.5 145.2 229.3 145.7 229.1 146.3 228.9 146.8 228.7 147.4 228.5 147.9 228.4 148.5 228.3 149.1 228.2 149.6 228.1 150.2 228.0 150.8 228.0 151.4 228.0 152.1 228.1 152.8 228.1 153.5 228.2 154.2 228.2 154.9 228.3 155.7 228.3 156.6 228.4 157.4 228.5 158.2 228.6 159.0 228.7 159.8 228.7 160.6 228.7 161.4 228.7 162.1 228.7 162.9 228.8 163.5 228.6 164.1 228.4 164.8 228.3 165.4 228.1 166.0 228.0 166.4 227.5 166.8 227.0 167.3 226.5 167.7 226.0 167.9 225.1 168.2 224.3 168.5 223.4 168.8 222.5 169.1 221.6 169.5 220.7 169.8 220.1 170.2 219.4 170.6 218.8 171.2 218.4 171.7 217.9 172.3 217.5 173.0 217.7 173.7 217.8 174.4 218.0 175.1 218.2 175.6 219.2 176.1 220.2 175.8 221.1 175.6 221.9 175.7 222.9 175.8 223.9 176.1 224.8 176.4 225.6 176.7 226.4 177.2 227.1 177.8 227.8 178.3 228.5 178.5 229.4 178.7 230.3 179.8 231.2 180.6 231.3 181.5 231.5 182.3 231.7 183.1 231.8 184.0 232.0 184.8 232.2 185.6 232.3 186.4 232.5 187.2 232.7 188.0 232.8 188.7 232.9 189.5 232.9 190.2 233.0 191.0 233.0 191.7 233.1 192.4 233.1 193.2 233.2 193.9 233.2 194.6 233.2 195.3 233.3 196.0 233.3 196.7 233.2 197.4 233.2 198.1 233.1 198.8 233.1 199.4 233.0 200.1 232.8 200.7 232.7 201.4 232.5 202.0 232.4 202.6 232.1 203.3 231.8 203.9 231.5 204.6 231.2 205.2 230.9 205.9 230.6 206.5 230.4 207.2 230.1 207.9 229.8 208.6 229.5 209.3 229.2 210.0 228.9 210.7 228.6 211.4 228.3 212.1 228.0 212.7 227.8 213.3 227.6 214.0 227.5 214.6 227.3 215.2 227.1 215.9 227.0 216.6 226.9 217.3 226.8 218.0 226.7 218.7 226.6 219.4 226.5 220.1 226.4 220.8 226.3 221.5 226.2 222.2 226.1 223.0 226.0 223.7 225.9 224.3 225.9 225.0 225.8 225.6 225.8 226.3 225.7 227.0 225.7 227.6 225.6 228.3 225.6 229.0 225.5 229.6 225.5 230.3 225.5 230.9 225.4 231.6 225.4 232.3 225.4 232.9 225.4 233.6 225.4 234.3 225.4 234.9 225.4 235.6 225.4 236.4 225.5 237.1 225.5 237.9 225.6 238.7 225.6 239.5 225.7 240.3 225.7 241.0 225.7 241.8 225.7 242.6 225.7 243.4 225.7 244.2 225.6 245.0 225.5 245.8 225.4 246.7 225.3 247.5 225.2 248.3 225.1 249.1 225.0 249.9 224.9 250.8 224.8 251.6 224.7 252.4 224.6 253.2 224.5 254.0 224.5 254.9 224.4 255.7 224.4 256.6 224.1 257.4 223.9 258.3 223.6 259.2 223.3 260.1 223.1 260.9 222.9 261.6 222.8 262.4 222.7 263.1 222.5 263.8 222.4 264.6 222.2 265.3 222.1 266.0 222.0 266.8 222.0 267.5 221.9 268.2 221.8 269.0 221.7 269.6 221.8 270.2 221.9 270.9 222.1 271.5 222.2 272.1 222.3 272.7 222.4 273.4 222.5 274.1 222.5 274.7 222.6 275.4 222.7 276.0 222.7 276.7 222.8 277.3 222.9 277.9 223.1 278.4 223.3 279.0 223.5 279.6 223.7 280.2 223.9 280.5 224.6 280.8 225.4 281.7 225.1 282.6 224.9 283.4 224.7 284.4 224.4 285.4 224.1 286.4 223.8 287.2 223.5 288.1 223.2 289.0 222.9 289.9 222.6 290.7 222.2 291.5 222.2 292.3 222.1 293.0 222.0 293.8 221.9 294.6 221.8 295.3 221.8 296.1 221.7 296.9 221.7 297.8 221.7 298.6 221.7 299.4 221.7 300.2 221.7 301.0 221.7 301.9 221.7 302.6 221.6 303.4 221.5 304.1 221.4 304.9 221.3 305.7 221.2 306.4 221.1 307.1 221.2 307.8 221.2 308.4 221.3 309.1 221.3 309.7 221.3 310.4 221.4 311.1 221.3 311.8 221.3 312.6 221.3 313.3 221.2 314.0 221.2 314.7 221.1 315.3 221.3 315.9 221.4 316.4 221.6 317.0 221.7 317.5 221.9 318.1 222.0 318.9 222.1 319.6 222.1 320.4 222.1 321.2 222.2 321.9 222.2 322.8 222.1 323.8 222.0 324.7 221.9 325.6 221.8 326.6 221.7 327.3 221.6 328.0 221.6 328.8 221.5 329.5 221.5 330.3 221.4 331.0 221.4 331.8 221.3 332.6 221.2 333.3 221.1 334.1 221.1 334.9 221.0 335.7 220.9 336.2 221.1 336.7 221.3 337.2 221.5 337.6 221.7 338.1 221.8 338.6 222.0 339.3 222.2 339.9 222.3 340.5 222.5 341.2 222.6 341.8 222.8 342.4 223.0 342.9 223.2 343.5 223.4 344.0 223.6 344.5 223.8 345.2 223.9 345.9 224.0 346.5 224.1 347.2 224.3 347.8 224.4 348.3 224.5 348.8 224.6 349.3 224.8 349.7 224.9 350.2 225.1 350.7 225.2 351.2 225.4 351.7 225.6 352.2 225.8 352.6 226.0 353.1 226.2 353.6 226.4 354.1 226.5 354.6 226.6 355.1 226.7 355.5 226.9 356.0 227.0 355.1 227.7 354.1 228.5 352.5 229.2 350.9 229.8 349.8 230.0 348.7 230.3 347.6 230.5 346.5 230.8 344.4 231.6 342.2 232.4 341.5 232.8 340.8 233.3 341.4 233.3 342.0 233.4 342.6 233.4 343.2 233.4 343.8 233.5 344.5 233.5 345.2 233.4 346.0 233.4 346.7 233.4 347.4 233.4 348.1 233.4 348.8 233.4 349.5 233.3 350.2 233.3 350.9 233.3 351.6 233.3 349.6 234.2 347.5 235.1 345.5 235.9 343.5 236.7 341.5 237.4 339.6 238.1 337.7 238.8 336.0 239.4 334.3 240.0 332.6 240.5 331.1 240.9 329.7 241.3 328.3 241.7 327.7 241.7 327.2 241.7 326.6 241.7 326.0 241.7 325.4 241.7 324.8 241.7 324.3 241.7 323.7 241.7 323.1 241.7 322.5 241.7 321.9 241.7 321.4 241.7 320.8 241.7 320.2 241.7 319.6 241.7 319.0 241.7 318.5 241.7 317.9 241.7 317.3 241.7 316.7 241.7 316.1 241.7 315.6 241.7 315.0 241.7 314.4 241.7 313.8 241.7 313.3 241.7 312.7 241.7 312.1 241.7 311.5 241.7 310.9 241.7 310.4 241.7 309.8 241.7 309.2 241.7 308.6 241.7 308.0 241.7 307.5 241.7 306.9 241.7 306.3 241.7 305.7 241.7 305.1 241.7 304.6 241.7 304.0 241.7 303.4 241.7 302.8 241.7 302.2 241.7 301.7 241.7 301.1 241.7 300.5 241.7 299.9 241.7 299.3 241.7 298.8 241.7 298.2 241.7 297.6 241.7 297.0 241.7 296.4 241.7 295.9 241.7 295.3 241.7 294.7 241.7 294.1 241.7 293.5 241.7 293.0 241.7 292.4 241.7 291.8 241.7 291.2 241.7 290.6 241.7 290.1 241.7 289.5 241.7 288.9 241.7 288.3 241.7 287.7 241.7 287.2 241.7 286.6 241.7 286.0 241.7 285.4 241.7 284.8 241.7 284.3 241.7 283.7 241.7 283.1 241.7 282.5 241.7 282.0 241.7 281.4 241.7 280.8 241.7 280.2 241.7 279.6 241.7 279.1 241.7 278.5 241.7 277.9 241.7 277.3 241.7 276.7 241.7 276.2 241.7 275.6 241.7 275.0 241.7 274.4 241.7 273.8 241.7 273.3 241.7 272.7 241.7 272.1 241.7 271.5 241.7 270.9 241.7 270.4 241.7 269.8 241.7 269.2 241.7 268.6 241.7 268.0 241.7 267.5 241.7 266.9 241.7 266.3 241.7 265.7 241.7 265.1 241.7 264.6 241.7 264.0 241.7 263.4 241.7 262.8 241.7 262.2 241.7 261.7 241.7 261.1 241.7 260.5 241.7 259.9 241.7 259.3 241.7 258.8 241.7 258.2 241.7 257.6 241.7 257.0 241.7 256.4 241.7 255.9 241.7 255.3 241.7 254.7 241.7 254.1 241.7 253.6 241.7 253.0 241.7 252.4 241.7 251.8 241.7 251.2 241.7 250.7 241.7 250.1 241.7 249.5 241.7 248.9 241.7 248.3 241.7 247.8 241.7 247.2 241.7 246.6 241.7 246.0 241.7 245.4 241.7 244.9 241.7 244.3 241.7 243.7 241.7 243.1 241.7 242.5 241.7 242.0 241.7 241.4 241.7 240.8 241.7 240.2 241.7 239.6 241.7 239.1 241.7 238.5 241.7 237.9 241.7 237.3 241.7 236.7 241.7 236.2 241.7 235.6 241.7 235.0 241.7 234.4 241.7 233.8 241.7 233.3 241.7 232.7 241.7 232.1 241.7 231.5 241.7 230.9 241.7 230.4 241.7 229.8 241.7 229.2 241.7 228.6 241.7 228.0 241.7 227.5 241.7 226.9 241.7 226.3 241.7 225.7 241.7 225.1 241.7 224.6 241.7 224.0 241.7 223.4 241.7 222.8 241.7 222.3 241.7 221.7 241.7 221.1 241.7 220.5 241.7 219.9 241.7 219.4 241.7 218.8 241.7 218.2 241.7 217.6 241.7 217.0 241.7 216.5 241.7 215.9 241.7 215.3 241.7 214.7 241.7 214.1 241.7 213.6 241.7 213.0 241.7 212.4 241.7 211.8 241.7 211.2 241.7 210.7 241.7 210.1 241.7 209.5 241.7 208.9 241.7 208.3 241.7 207.8 241.7 207.2 241.7 206.6 241.7 206.0 241.7 205.4 241.7 204.9 241.7 204.3 241.7 203.7 241.7 203.1 241.7 202.5 241.7 202.0 241.7 201.4 241.7 200.8 241.7 200.2 241.7 199.6 241.7 199.1 241.7 198.5 241.7 197.9 241.7 197.3 241.7 196.7 241.7 196.2 241.7 195.6 241.7 195.0 241.7 194.4 241.7 193.8 241.7 193.3 241.7 192.7 241.7 192.1 241.7 191.5 241.7 191.0 241.7 190.4 241.7 189.8 241.7 189.2 241.7 188.6 241.7 188.1 241.7 187.5 241.7 186.9 241.7 186.3 241.7 185.7 241.7 185.2 241.7 184.6 241.7 184.0 241.7 183.4 241.7 182.8 241.7 182.3 241.7 181.7 241.7 181.1 241.7 180.5 241.7 179.9 241.7 179.4 241.7 178.8 241.7 178.2 241.7 177.6 241.7 177.0 241.7 176.5 241.7 175.9 241.7 175.3 241.7 174.7 241.7 174.1 241.7 173.6 241.7 173.0 241.7 172.4 241.7 171.8 241.7 171.2 241.7 170.7 241.7 170.1 241.7 169.5 241.7 168.9 241.7 168.3 241.7 167.8 241.7 167.2 241.7 166.6 241.7 166.0 241.7 165.4 241.7 164.9 241.7 164.3 241.7 163.7 241.7 163.1 241.7 162.6 241.7 162.0 241.7 161.4 241.7 160.8 241.7 160.2 241.7 159.7 241.7 159.1 241.7 158.5 241.7 157.9 241.7 157.3 241.7 156.8 241.7 156.2 241.7 155.6 241.7 155.0 241.7 154.4 241.7 153.9 241.7 153.3 241.7 152.7 241.7 152.1 241.7 151.5 241.7 151.0 241.7 150.4 241.7 149.8 241.7 149.2 241.7 148.6 241.7 148.1 241.7 147.5 241.7 146.9 241.7 146.3 241.7 145.7 241.7 145.2 241.7 144.6 241.7 144.0 241.7 143.4 241.7 142.8 241.7 142.3 241.7 141.7 241.7 141.1 241.7 140.5 241.7 139.9 241.7 139.4 241.7 138.8 241.7 138.2 241.7 137.6 241.7 137.0 241.7 136.5 241.7 135.9 241.7 135.3 241.7 134.7 241.7 134.1 241.7 133.6 241.7 133.0 241.7 132.4 241.7 131.8 241.7 131.3 241.7 130.7 241.7 130.1 241.7 129.5 241.7 128.9 241.7 128.4 241.7 127.8 241.7 127.2 241.7 126.6 241.7 126.0 241.7 125.5 241.7 124.9 241.7 124.3 241.7 123.7 241.7 123.1 241.7 122.6 241.7 122.0 241.7 121.4 241.7 120.8 241.7 120.2 241.7 119.7 241.7 119.1 241.7 117.7 241.3 116.3 240.9 114.8 240.5 113.1 240.0 111.4 239.4 109.7 238.8 107.8 238.1 105.9 237.4 103.9 236.7 101.9 235.9 99.9 235.1 97.8 234.2Z" fill="#808080"/>
<path d="M217.7 97.3 216.9 96.3 216.1 95.9 215.1 96.1 214.1 96.3 214.2 95.3 214.3 94.3 213.5 93.6 213.9 92.6 214.3 91.5 214.4 90.7 214.4 89.8 214.2 88.9 213.9 88.0 214.8 87.4 215.7 86.8 216.4 86.9 217.1 86.9 217.8 86.9 218.8 87.1 219.8 87.2 220.7 87.2 221.7 87.2 222.0 86.5 222.0 85.5 222.1 84.5 221.3 83.7 220.6 83.4 219.8 83.0 219.0 82.7 218.8 81.8 218.6 80.9 219.4 80.8 220.1 80.7 220.8 80.6 221.6 80.7 221.4 80.0 221.3 79.3 221.4 79.2 222.0 79.6 222.6 79.9 223.2 79.8 223.8 79.8 224.7 79.2 224.9 78.2 225.4 78.0 225.9 77.9 226.8 77.5 227.4 76.8 227.9 75.7 228.5 75.4 229.1 75.0 229.7 74.9 230.2 74.8 230.7 74.8 231.3 74.8 231.4 74.6 231.2 73.5 230.8 72.6 230.5 71.8 231.2 70.9 231.9 70.6 232.6 70.3 233.3 70.0 233.1 69.6 232.8 69.2 232.1 69.9 231.3 70.5 230.6 70.6 229.9 70.7 229.2 70.4 228.5 70.0 228.2 69.3 228.0 68.5 227.7 67.7 227.5 66.8 228.0 65.7 228.5 64.7 229.2 64.3 230.0 64.0 230.8 63.6 231.5 63.1 232.3 62.6 233.0 61.8 233.7 61.1 234.3 60.4 234.8 59.7 235.4 59.0 236.0 58.6 236.6 58.2 237.3 57.7 238.0 57.3 238.7 56.9 239.2 56.7 239.8 56.5 240.4 56.4 241.0 56.4 241.6 56.5 242.1 56.0 242.6 55.6 243.3 55.7 244.1 55.7 244.8 55.6 245.5 55.4 246.3 55.7 247.1 55.9 248.0 56.1 248.8 56.4 249.0 56.9 248.7 57.0 249.2 57.2 249.8 57.4 250.5 57.4 251.2 57.5 251.9 57.6 252.7 57.6 253.6 57.9 254.5 58.3 255.4 58.6 256.3 58.9 257.0 59.7 257.7 60.5 258.0 60.3 258.7 60.5 259.5 60.7 259.5 60.6 258.6 59.9 258.8 59.4 259.0 58.8 259.6 58.7 260.2 58.5 260.8 58.4 261.6 59.1 262.3 59.8 262.2 59.4 262.9 59.1 263.6 58.8 264.3 58.6 264.9 58.3 265.6 58.1 266.3 57.8 267.0 57.9 267.7 58.0 267.9 58.3 268.6 58.3 269.3 58.2 269.8 58.0 270.4 57.8 270.9 58.1 271.5 58.4 271.6 58.3 270.5 57.7 270.8 57.2 271.1 56.8 271.8 56.9 272.4 57.0 273.1 57.1 273.8 57.2 274.4 57.4 275.1 57.5 275.7 57.7 276.3 57.9 276.1 57.0 275.6 56.7 275.1 55.8 275.5 55.3 275.9 54.8 275.8 53.9 276.4 53.6 277.0 53.7 277.6 53.7 278.2 53.8 278.8 53.9 279.4 54.5 280.0 55.0 280.0 55.2 280.3 55.0 280.6 54.7 279.8 53.9 280.2 53.8 280.6 53.7 281.9 54.7 282.3 54.5 282.7 54.3 283.3 54.3 283.8 54.3 284.4 54.3 284.8 54.4 284.2 53.8 283.6 53.1 284.0 53.0 284.5 52.9 284.9 52.8 285.6 52.8 286.2 52.8 286.8 52.9 287.4 52.8 286.9 52.5 287.2 52.1 287.4 51.6 287.8 51.6 288.3 51.6 288.7 51.4 289.2 51.1 289.8 51.1 290.3 51.0 290.8 50.9 290.8 50.7 291.5 50.7 292.2 50.7 292.8 50.6 293.6 50.8 293.9 50.7 294.2 50.5 294.6 50.4 295.2 50.4 295.7 50.4 295.4 50.0 295.5 49.7 295.7 49.4 296.1 49.3 296.5 49.2 297.0 49.2 297.8 49.3 298.6 49.4 299.4 49.6 299.7 49.8 299.9 49.8 300.6 50.2 300.9 50.1 301.6 50.1 302.3 50.1 303.0 50.1 303.8 50.2 304.5 50.4 305.3 50.6 306.2 50.9 307.0 51.1 307.5 51.7 308.0 52.2 307.8 52.4 307.5 52.5 307.2 52.7 306.8 52.8 307.2 52.8 307.5 52.7 307.8 52.6 308.8 53.2 308.8 53.1 309.4 53.0 309.9 52.9 310.6 52.9 311.3 53.0 312.0 53.0 312.8 53.1 313.5 53.5 314.2 53.6 314.9 53.6 315.6 53.6 316.3 53.6 315.4 52.9 316.1 53.0 316.8 53.0 317.5 53.0 318.1 53.0 318.7 53.0 319.8 53.4 320.9 53.7 322.0 54.2 323.0 54.8 323.0 55.1 324.0 55.5 324.7 55.6 325.4 55.8 324.8 54.8 325.8 55.0 326.8 55.2 327.2 55.1 327.7 54.9 328.6 55.1 329.6 55.3 329.7 55.0 330.3 55.1 329.1 54.5 329.3 54.2 329.6 54.0 329.8 53.8 330.6 53.9 331.4 54.0 332.2 54.0 333.0 54.1 333.8 54.1 334.6 54.2 335.4 54.3 336.1 54.3 336.9 54.4 337.7 54.4 339.4 55.1 340.4 55.3 341.4 55.6 342.4 55.8 343.1 55.8 343.8 55.7 344.5 55.7 345.1 55.6 345.7 55.7 346.3 55.7 346.9 55.8 347.8 56.1 348.7 56.4 349.8 57.1 350.6 57.3 351.0 57.2 351.4 57.1 352.0 57.0 352.7 57.0 353.5 57.1 354.4 57.2 355.1 57.1 355.8 57.1 357.2 57.5 358.6 58.0 358.6 57.9 357.4 57.4 357.2 57.0 356.9 56.6 357.7 56.6 358.4 56.7 359.2 56.8 360.0 56.9 360.5 56.8 361.0 56.8 361.5 56.8 362.5 56.9 363.6 57.1 364.7 57.3 365.8 57.6 366.9 57.8 368.4 58.8 369.9 59.8 371.4 60.8 372.9 61.8 374.4 62.8 374.2 63.1 374.0 63.5 375.0 63.9 376.2 64.4 377.2 65.2 378.0 66.0 377.3 65.9 376.6 65.8 375.9 65.7 375.5 66.0 375.0 66.2 374.6 66.5 374.0 66.6 373.8 67.1 373.6 67.6 373.4 68.1 373.7 68.8 372.5 68.3 371.3 67.9 370.9 68.2 370.5 68.5 370.1 68.8 369.2 68.4 369.1 68.9 368.4 68.8 367.8 68.7 368.3 69.3 368.5 70.1 369.0 70.2 369.6 70.3 370.5 71.2 371.4 72.0 372.3 72.9 371.9 72.9 371.4 73.0 371.6 73.3 373.1 74.1 372.7 74.4 372.4 74.7 372.0 75.0 372.5 75.7 373.0 76.4 372.4 76.5 371.8 76.6 372.3 77.7 372.4 78.5 372.4 79.4 371.4 78.6 370.4 77.9 369.3 77.0 368.2 76.1 367.2 75.1 366.0 74.2 364.9 73.3 364.2 72.3 363.4 71.4 363.5 70.7 362.8 70.1 363.4 69.9 364.0 69.7 364.1 69.0 364.1 68.4 364.2 67.8 364.2 67.3 364.0 67.7 363.7 68.1 362.4 67.3 361.1 66.5 360.7 66.7 360.2 66.8 359.7 66.9 359.6 67.6 359.6 68.3 361.5 69.3 361.7 69.5 360.9 69.6 360.1 69.7 359.4 69.8 358.6 69.9 357.8 69.9 356.8 69.0 355.7 68.9 355.5 69.2 355.2 69.5 354.5 69.4 353.8 69.4 353.1 69.4 352.4 69.3 351.8 69.4 351.2 69.5 350.5 69.6 349.9 69.7 349.8 70.2 349.6 70.7 349.4 71.3 349.2 71.8 349.0 72.4 348.8 73.1 348.5 73.7 348.9 73.8 350.0 74.5 350.8 74.6 350.8 74.1 351.5 74.1 352.2 74.2 353.7 75.0 355.1 75.8 355.8 76.5 356.6 77.3 356.7 77.9 356.8 78.5 357.3 79.2 357.8 79.8 358.4 80.9 359.0 81.9 358.8 82.8 358.7 83.7 358.9 84.5 358.8 85.3 358.6 86.1 358.3 86.7 358.1 87.4 357.9 88.2 357.4 88.6 356.9 89.0 356.0 89.0 355.3 88.6 355.0 89.2 354.6 89.9 354.3 89.7 354.3 89.9 354.1 90.2 354.6 91.0 354.2 91.5 353.9 92.2 353.4 92.4 353.2 92.5 353.3 92.7 354.2 93.2 355.1 94.0 356.0 94.8 356.8 95.7 357.3 96.6 357.7 97.5 357.5 98.5 357.0 98.6 356.5 98.7 355.9 99.3 355.2 99.4 354.5 99.4 354.2 98.8 353.8 98.2 353.6 97.3 352.9 96.5 352.2 95.6 352.7 95.4 352.5 95.2 352.2 95.1 351.9 95.4 351.0 94.9 350.2 94.4 350.3 93.5 350.2 93.2 350.2 92.9 349.9 92.8 349.5 92.6 349.0 92.8 348.5 92.9 347.9 93.4 347.3 93.7 346.7 93.9 347.9 94.4 348.9 94.4 349.4 95.3 349.9 96.2 349.1 96.4 348.3 96.5 348.2 97.2 347.5 97.8 347.5 98.0 348.3 98.4 348.9 99.1 349.4 99.8 350.3 100.9 351.6 102.0 351.9 102.8 352.1 103.6 351.7 103.8 352.7 104.2 352.7 105.0 352.8 105.7 352.9 106.3 352.9 107.0 352.2 107.2 352.0 108.1 351.7 109.0 351.5 109.9 351.1 110.7 350.8 111.5 349.9 112.3 349.0 113.0 348.1 113.8 347.5 113.8 346.9 113.9 346.3 114.7 345.7 114.3 345.4 114.6 344.6 114.9 343.9 115.2 343.1 115.4 343.0 116.2 342.9 116.9 342.3 116.9 341.7 116.9 341.3 116.1 340.9 115.4 340.9 115.3 340.2 115.2 339.9 115.2 339.3 115.7 338.8 116.2 338.2 117.2 338.1 117.7 338.8 118.6 339.5 119.5 340.2 120.4 341.3 121.1 342.2 122.3 342.5 123.1 342.7 124.0 343.0 124.8 343.0 126.0 343.1 127.3 342.1 128.3 341.5 128.7 340.9 129.1 340.1 130.1 339.3 130.9 338.5 131.6 338.0 130.9 337.5 130.1 337.7 129.4 337.2 129.0 336.3 128.9 335.6 127.9 335.3 127.2 334.9 126.6 334.6 125.7 334.0 126.1 333.3 126.6 333.0 125.6 333.0 126.4 332.8 127.3 332.6 128.2 332.4 129.2 332.4 129.5 333.0 129.5 333.3 130.3 333.7 131.0 333.9 132.0 334.3 132.5 335.0 132.7 335.6 133.4 336.7 134.3 337.3 135.3 337.4 136.3 337.3 136.9 337.5 137.7 337.9 138.1 338.2 138.9 338.4 139.8 337.7 140.2 337.0 140.7 336.4 140.1 335.8 139.5 335.0 138.9 334.3 138.4 334.2 137.7 333.5 136.9 333.3 135.8 332.8 135.1 332.9 134.1 332.7 133.8 332.3 133.4 332.0 132.7 331.5 132.1 331.3 133.0 330.8 132.9 330.6 132.0 330.4 131.1 330.5 130.2 330.7 129.2 330.5 128.1 330.8 127.4 330.3 126.8 330.3 126.1 330.3 125.4 329.9 124.9 329.6 124.1 329.3 123.3 329.1 122.5 328.9 121.7 328.8 121.4 328.5 121.6 327.9 122.1 327.2 122.6 326.4 122.4 325.8 122.2 325.2 122.0 325.3 121.0 325.3 120.0 325.1 119.2 324.4 118.3 323.8 117.4 323.9 117.4 323.7 117.3 322.7 116.2 322.2 115.4 322.0 114.7 321.7 114.2 321.4 113.8 321.3 113.8 321.3 113.8 321.1 114.5 320.9 115.2 320.0 114.8 319.5 114.9 319.5 115.1 318.4 115.1 317.6 115.3 317.7 116.1 317.1 116.9 316.4 117.3 315.7 117.8 315.2 118.5 314.6 119.2 313.9 120.0 313.1 120.7 313.2 121.2 312.4 121.8 311.4 122.3 311.1 122.3 311.0 122.8 311.1 123.6 311.3 124.3 311.5 125.5 311.2 126.6 311.2 127.8 311.3 129.1 310.5 129.2 310.4 129.6 311.0 130.3 310.3 130.6 309.5 130.9 309.1 131.6 308.3 132.3 307.6 131.5 306.9 130.8 306.6 129.8 306.2 128.9 305.7 127.7 305.4 127.1 304.7 126.0 304.5 125.1 304.3 124.3 304.0 123.6 303.4 122.8 302.9 121.9 302.5 120.6 302.2 119.4 301.9 118.6 301.7 117.8 301.6 117.0 301.5 116.3 301.4 115.7 300.8 116.0 300.3 116.3 299.3 116.1 298.2 115.1 297.2 114.1 297.6 113.6 296.4 112.6 295.4 112.3 294.9 111.2 294.3 110.6 293.4 110.7 292.5 110.8 291.7 110.8 290.8 110.8 290.0 110.9 289.3 110.9 288.2 110.7 287.2 110.5 286.6 110.4 286.0 110.3 285.2 110.2 284.5 110.1 284.3 109.7 284.3 110.5 284.7 111.1 285.2 111.3 285.9 111.6 286.6 111.7 287.7 112.9 288.2 113.3 288.3 114.0 288.0 114.7 287.8 115.3 287.4 115.7 286.9 116.8 286.3 116.7 286.3 117.1 286.5 117.9 286.3 118.6 285.5 118.6 285.2 118.8 285.2 119.3 284.7 119.9 284.1 119.9 284.0 120.0 284.0 120.5 283.1 121.0 282.4 121.0 281.8 121.3 281.3 121.3 280.8 121.6 280.7 121.9 280.8 122.5 280.1 122.9 279.4 123.2 278.5 123.5 277.7 123.8 277.2 123.9 276.9 124.6 276.1 124.8 275.8 124.8 275.5 125.1 274.6 125.4 273.6 125.6 273.6 125.6 273.4 125.9 273.1 125.9 273.0 126.3 272.2 126.3 271.9 126.4 271.3 126.4 270.7 126.4 270.2 125.2 270.2 124.5 270.1 124.2 269.8 123.4 269.1 122.4 269.5 122.2 269.4 122.0 269.6 121.6 269.6 121.4 269.4 121.0 269.0 120.5 268.9 120.1 268.5 119.8 268.1 119.2 267.7 118.6 267.3 117.6 266.7 117.0 266.2 116.8 265.7 116.0 265.2 115.3 265.1 114.4 265.0 113.6 264.5 112.5 264.1 112.1 263.4 111.8 262.9 110.7 262.9 110.5 262.7 110.1 262.3 109.9 261.8 108.8 261.1 107.8 260.6 107.2 259.6 107.2 259.8 106.6 260.0 105.9 259.9 105.4 260.0 105.1 259.8 104.2 259.6 103.3 259.4 102.4 259.5 101.5 259.6 100.6 259.8 100.2 260.0 99.1 260.2 98.3 260.3 97.4 260.4 96.9 260.4 96.7 260.2 96.7 259.5 96.5 258.9 97.1 258.0 97.2 257.1 97.3 256.1 96.7 255.4 96.6 255.3 96.9 254.8 97.1 254.2 97.3 253.6 96.9 253.1 96.5 252.4 96.5 251.8 96.5 251.4 95.8 251.0 95.1 249.9 94.3 250.3 93.3 249.6 92.6 250.0 91.8 249.7 91.4 249.3 91.4 248.9 91.4 249.2 91.5 249.3 92.1 248.6 92.3 247.9 92.5 247.7 92.5 248.3 93.0 247.8 93.3 247.8 93.3 248.6 93.8 248.6 94.6 248.7 95.4 248.3 95.3 248.4 95.5 247.7 95.7 248.0 96.3 248.3 96.9 247.5 96.9 246.7 96.9 246.2 96.6 245.6 96.3 245.0 95.1 244.8 94.3 244.4 93.8 243.7 93.0 243.7 92.8 243.5 92.7 243.5 92.3 242.9 91.9 242.8 91.7 242.6 92.4 242.4 93.0 241.4 92.1 241.1 92.0 241.6 92.3 241.5 93.0 241.5 93.7 240.9 93.9 240.4 94.9 239.8 94.9 239.1 94.9 239.3 94.0 239.4 93.1 239.4 93.1 239.0 92.3 238.6 92.1 237.6 91.4 237.2 91.0 236.5 90.8 235.6 90.3 234.6 89.4 233.8 88.7 233.5 87.6 233.2 87.5 232.5 87.1 232.2 87.2 231.7 87.8 231.2 87.9 230.3 88.7 229.3 88.5 228.3 88.3 227.7 88.4 227.2 88.6 227.1 88.9 227.2 89.8 226.6 90.4 226.0 91.0 225.4 91.1 224.8 91.2 224.8 91.3 224.2 92.1 223.9 92.7 224.4 93.7 223.6 94.4 223.4 95.3 222.5 95.6 221.7 96.5 220.9 96.5 220.1 96.5 219.3 96.5 218.9 96.9 218.2 97.7ZM251.8 90.4 252.8 90.4 253.6 90.4 254.5 90.4 255.3 90.4 256.1 90.2 257.0 89.9 257.8 89.7 258.7 89.5 259.7 89.9 260.8 90.3 261.9 90.7 262.7 90.5 263.6 90.4 264.4 90.2 265.3 90.1 265.0 88.8 264.1 88.1 263.1 87.4 262.2 86.6 261.1 86.2 260.0 85.8 259.3 85.7 258.5 85.5 257.6 86.0 256.7 86.5 255.5 85.3 256.4 84.6 255.5 84.3 254.7 84.1 253.8 83.8 253.2 84.8 252.8 85.5 252.4 86.3 251.9 87.0 251.7 87.9 251.4 88.8 251.6 89.6ZM270.0 86.4 270.6 85.6 271.2 84.8 271.9 84.0 272.8 83.7 273.6 83.3 274.4 83.6 275.2 83.8 275.4 84.6 275.6 85.4 274.9 85.9 274.2 86.4 274.9 87.5 275.5 88.6 276.2 89.7 277.1 90.3 278.0 90.9 278.0 92.0 278.0 93.1 278.4 94.1 278.9 95.0 278.0 95.2 277.1 95.3 276.3 95.5 275.4 95.6 274.5 95.0 273.7 94.4 273.6 93.4 273.6 92.4 273.6 91.4 272.6 90.4 271.7 89.5 270.9 88.2 270.4 87.3Z" fill="#808080" fill-rule="evenodd"/>
<ellipse cx="52.3" cy="117.9" rx="3.3" ry="1.3" fill="#f3fcbb"/>
<ellipse cx="0" cy="0" rx="2.3" ry="0.9" fill="#ebb93c" transform="translate(54 121.6) rotate(-62)"/>
<circle cx="55.9" cy="117.0" r="1.0" fill="#6f7090"/>
<circle cx="290.1" cy="202.4" r="0.9" fill="#fff"/>
<circle cx="168.2" cy="204.6" r="1.0" fill="#fff"/>
<path d="M239.0 62.8C239.5 62.2 241.1 61.7 241.8 62.2C242.5 62.7 243.0 64.5 243.3 66.0C243.6 67.5 243.9 69.6 243.8 71.0C243.7 72.4 243.2 73.8 242.5 74.3C241.8 74.8 240.4 74.8 239.8 74.0C239.2 73.2 239.0 70.9 238.8 69.5C238.6 68.1 238.7 66.6 238.7 65.5C238.7 64.4 238.5 63.3 239.0 62.8Z" fill="#eefb48"/>
<path d="M240.3 68.5C240.5 67.9 241.6 67.8 242.0 68.2C242.4 68.6 242.8 70.4 242.6 71.0C242.4 71.6 241.4 72.4 241.0 72.0C240.6 71.6 240.1 69.1 240.3 68.5Z" fill="#ebb93c"/>
<path d="M136.9 53.1 137.7 53.1 138.5 53.1 139.2 53.0 140.0 53.0 140.8 53.0 141.5 53.0 142.3 53.0 143.1 53.0 143.8 52.9 144.6 52.9 145.4 52.9 146.1 52.9 146.9 52.9 147.7 52.8 148.4 52.8 149.2 52.8 149.9 52.8 150.7 52.8 151.4 52.8 152.1 52.8 152.9 52.9 153.6 52.9 154.3 52.9 155.1 52.9 155.8 52.9 156.6 52.9 157.3 52.9 158.0 53.0 158.7 53.0 159.5 53.0 160.2 53.0 160.9 53.0 161.6 53.1 162.4 53.1 163.0 52.3 162.3 52.3 161.6 52.3 160.9 52.2 160.2 52.2 159.5 52.2 158.8 52.2 158.0 52.1 157.3 52.1 156.6 52.1 155.9 52.1 155.1 52.1 154.4 52.1 153.7 52.1 153.0 52.1 152.2 52.1 151.5 52.0 150.8 52.0 150.1 52.0 149.3 52.0 148.6 52.0 147.8 52.0 147.1 52.0 146.3 52.1 145.6 52.1 144.8 52.1 144.1 52.1 143.4 52.1 142.6 52.1 141.9 52.1 141.1 52.1 140.4 52.1 139.6 52.1 138.9 52.1 138.1 52.1Z" fill="#f3fcbb"/>
<path d="M66.22 214.97L381.18 214.97M34.39 178.71L413.01 178.71M26.50 141.50L420.90 141.50M34.39 104.29L413.01 104.29M66.22 68.03L381.18 68.03" stroke="#000" stroke-opacity="0.25" stroke-width="0.9" fill="none"/>
<path d="M171.23 241.52 168.99 240.26 166.37 238.49 163.46 236.28 160.37 233.71 157.32 230.88 154.56 227.91 152.01 224.83 149.58 221.63 147.23 218.34 144.96 214.97 142.77 211.53 140.69 208.03 138.74 204.47 136.96 200.86 135.33 197.22 133.79 193.55 132.38 189.86 131.13 186.15 130.02 182.43 129.04 178.71 128.22 174.99 127.56 171.27 127.02 167.55 126.53 163.82 126.09 160.10 125.74 156.38 125.47 152.66 125.29 148.94 125.16 145.22 125.10 141.50 125.16 137.78 125.29 134.06 125.47 130.34 125.74 126.62 126.09 122.90 126.53 119.18 127.02 115.45 127.56 111.73 128.22 108.01 129.04 104.29 130.02 100.57 131.13 96.85 132.38 93.14 133.79 89.45 135.33 85.78 136.96 82.14 138.74 78.53 140.69 74.97 142.77 71.47 144.96 68.03 147.23 64.66 149.58 61.37 152.01 58.17 154.56 55.09 157.32 52.12 160.37 49.29 163.46 46.72 166.37 44.51 168.99 42.74 171.23 41.48M223.70 241.52 223.70 240.26 223.70 238.49 223.70 236.28 223.70 233.71 223.70 230.88 223.70 227.91 223.70 224.83 223.70 221.63 223.70 218.34 223.70 214.97 223.70 211.53 223.70 208.03 223.70 204.47 223.70 200.86 223.70 197.22 223.70 193.55 223.70 189.86 223.70 186.15 223.70 182.43 223.70 178.71 223.70 174.99 223.70 171.27 223.70 167.55 223.70 163.82 223.70 160.10 223.70 156.38 223.70 152.66 223.70 148.94 223.70 145.22 223.70 141.50 223.70 137.78 223.70 134.06 223.70 130.34 223.70 126.62 223.70 122.90 223.70 119.18 223.70 115.45 223.70 111.73 223.70 108.01 223.70 104.29 223.70 100.57 223.70 96.85 223.70 93.14 223.70 89.45 223.70 85.78 223.70 82.14 223.70 78.53 223.70 74.97 223.70 71.47 223.70 68.03 223.70 64.66 223.70 61.37 223.70 58.17 223.70 55.09 223.70 52.12 223.70 49.29 223.70 46.72 223.70 44.51 223.70 42.74 223.70 41.48M276.17 241.52 278.41 240.26 281.03 238.49 283.94 236.28 287.03 233.71 290.08 230.88 292.84 227.91 295.39 224.83 297.82 221.63 300.17 218.34 302.44 214.97 304.63 211.53 306.71 208.03 308.66 204.47 310.44 200.86 312.07 197.22 313.61 193.55 315.02 189.86 316.27 186.15 317.38 182.43 318.36 178.71 319.18 174.99 319.84 171.27 320.38 167.55 320.87 163.82 321.31 160.10 321.66 156.38 321.93 152.66 322.11 148.94 322.24 145.22 322.30 141.50 322.24 137.78 322.11 134.06 321.93 130.34 321.66 126.62 321.31 122.90 320.87 119.18 320.38 115.45 319.84 111.73 319.18 108.01 318.36 104.29 317.38 100.57 316.27 96.85 315.02 93.14 313.61 89.45 312.07 85.78 310.44 82.14 308.66 78.53 306.71 74.97 304.63 71.47 302.44 68.03 300.17 64.66 297.82 61.37 295.39 58.17 292.84 55.09 290.08 52.12 287.03 49.29 283.94 46.72 281.03 44.51 278.41 42.74 276.17 41.48" stroke="#000" stroke-opacity="0.3" stroke-width="0.9" fill="none"/>
</g>
<path d="M328.65 241.52 331.53 240.74 334.79 239.72 338.36 238.49 342.19 237.06 346.22 235.46 350.37 233.71 354.47 231.84 358.36 229.90 361.98 227.91 365.41 225.87 368.71 223.77 371.93 221.63 375.08 219.45 378.17 217.23 381.18 214.97 384.12 212.69 386.97 210.37 389.73 208.03 392.36 205.66 394.85 203.27 397.17 200.86 399.37 198.44 401.48 196.00 403.52 193.55 405.44 191.09 407.21 188.62 408.83 186.15 410.34 183.67 411.74 181.19 413.01 178.71 414.14 176.23 415.13 173.75 415.98 171.27 416.72 168.79 417.39 166.30 418.04 163.82 418.65 161.34 419.18 158.86 419.63 156.38 419.99 153.90 420.29 151.42 420.53 148.94 420.71 146.46 420.83 143.98 420.90 141.50 420.83 139.02 420.71 136.54 420.53 134.06 420.29 131.58 419.99 129.10 419.63 126.62 419.18 124.14 418.65 121.66 418.04 119.18 417.39 116.70 416.72 114.21 415.98 111.73 415.13 109.25 414.14 106.77 413.01 104.29 411.74 101.81 410.34 99.33 408.83 96.85 407.21 94.38 405.44 91.91 403.52 89.45 401.48 87.00 399.37 84.56 397.17 82.14 394.85 79.73 392.36 77.34 389.73 74.97 386.97 72.63 384.12 70.31 381.18 68.03 378.17 65.77 375.08 63.55 371.93 61.37 368.71 59.23 365.41 57.13 361.98 55.09 358.36 53.10 354.47 51.16 350.37 49.29 346.22 47.54 342.19 45.94 338.36 44.51 334.79 43.28 331.53 42.26 328.65 41.48M118.75 241.52 115.87 240.74 112.61 239.72 109.04 238.49 105.21 237.06 101.18 235.46 97.03 233.71 92.93 231.84 89.04 229.90 85.42 227.91 81.99 225.87 78.69 223.77 75.47 221.63 72.32 219.45 69.23 217.23 66.22 214.97 63.28 212.69 60.43 210.37 57.67 208.03 55.04 205.66 52.55 203.27 50.23 200.86 48.03 198.44 45.92 196.00 43.88 193.55 41.96 191.09 40.19 188.62 38.57 186.15 37.06 183.67 35.66 181.19 34.39 178.71 33.26 176.23 32.27 173.75 31.42 171.27 30.68 168.79 30.01 166.30 29.36 163.82 28.75 161.34 28.22 158.86 27.77 156.38 27.41 153.90 27.11 151.42 26.87 148.94 26.69 146.46 26.57 143.98 26.50 141.50 26.57 139.02 26.69 136.54 26.87 134.06 27.11 131.58 27.41 129.10 27.77 126.62 28.22 124.14 28.75 121.66 29.36 119.18 30.01 116.70 30.68 114.21 31.42 111.73 32.27 109.25 33.26 106.77 34.39 104.29 35.66 101.81 37.06 99.33 38.57 96.85 40.19 94.38 41.96 91.91 43.88 89.45 45.92 87.00 48.03 84.56 50.23 82.14 52.55 79.73 55.04 77.34 57.67 74.97 60.43 72.63 63.28 70.31 66.22 68.03 69.23 65.77 72.32 63.55 75.47 61.37 78.69 59.23 81.99 57.13 85.42 55.09 89.04 53.10 92.93 51.16 97.03 49.29 101.18 47.54 105.21 45.94 109.04 44.51 112.61 43.28 115.87 42.26 118.75 41.48" fill="none" stroke="#111" stroke-width="1"/>
<path d="M118.75 41.48L328.65 41.48M118.75 241.52L328.65 241.52" fill="none" stroke="#8a8a8a" stroke-width="0.9"/>
<text x="2.57" y="15.20" font-size="12.30" fill="#000" textLength="9.47" lengthAdjust="spacingAndGlyphs" font-weight="bold" >A</text>
<text x="464.68" y="15.40" font-size="12.30" fill="#000" textLength="8.88" lengthAdjust="spacingAndGlyphs" font-weight="bold" >B</text>
<text x="0.54" y="300.50" font-size="12.30" fill="#000" textLength="8.17" lengthAdjust="spacingAndGlyphs" font-weight="bold" >C</text>
<text x="466.47" y="300.60" font-size="12.30" fill="#000" textLength="10.01" lengthAdjust="spacingAndGlyphs" font-weight="bold" >D</text>
<text x="156.13" y="34.70" font-size="11.66" fill="#4d4d4d" textLength="29.94" lengthAdjust="spacingAndGlyphs" >90°W</text>
<text x="217.64" y="34.70" font-size="11.66" fill="#4d4d4d" textLength="11.96" lengthAdjust="spacingAndGlyphs" >0°</text>
<text x="263.31" y="34.70" font-size="11.66" fill="#4d4d4d" textLength="26.13" lengthAdjust="spacingAndGlyphs" >90°E</text>
<text x="34.16" y="63.80" font-size="11.66" fill="#4d4d4d" textLength="28.17" lengthAdjust="spacingAndGlyphs" >60°N</text>
<text x="2.43" y="101.20" font-size="11.66" fill="#4d4d4d" textLength="27.57" lengthAdjust="spacingAndGlyphs" >30°N</text>
<text x="9.58" y="142.80" font-size="11.66" fill="#4d4d4d" textLength="12.83" lengthAdjust="spacingAndGlyphs" >0°</text>
<text x="3.83" y="186.60" font-size="11.66" fill="#4d4d4d" textLength="26.73" lengthAdjust="spacingAndGlyphs" >30°S</text>
<text x="35.27" y="221.90" font-size="11.66" fill="#4d4d4d" textLength="26.90" lengthAdjust="spacingAndGlyphs" >60°S</text>
<rect x="109.30" y="250.60" width="31.26" height="10.80" fill="#3b0304"/>
<rect x="140.26" y="250.60" width="31.26" height="10.80" fill="#9e1a10"/>
<rect x="171.21" y="250.60" width="31.26" height="10.80" fill="#ff2b12"/>
<rect x="202.17" y="250.60" width="31.26" height="10.80" fill="#f85f1c"/>
<rect x="233.13" y="250.60" width="31.26" height="10.80" fill="#ebb93c"/>
<rect x="264.09" y="250.60" width="31.26" height="10.80" fill="#eefb48"/>
<rect x="295.04" y="250.60" width="31.26" height="10.80" fill="#f3fcbb"/>
<rect x="109.30" y="250.60" width="216.70" height="10.80" fill="none" stroke="#262626" stroke-width="0.9"/>
<line x1="140.26" y1="261.40" x2="140.26" y2="265.00" stroke="#262626" stroke-width="0.9"/>
<text x="129.43" y="278.80" font-size="11.77" fill="#1a1a1a" textLength="21.31" lengthAdjust="spacingAndGlyphs" >-0.3</text>
<line x1="202.17" y1="261.40" x2="202.17" y2="265.00" stroke="#262626" stroke-width="0.9"/>
<text x="191.35" y="278.80" font-size="11.77" fill="#1a1a1a" textLength="21.16" lengthAdjust="spacingAndGlyphs" >-0.2</text>
<line x1="264.09" y1="261.40" x2="264.09" y2="265.00" stroke="#262626" stroke-width="0.9"/>
<text x="253.26" y="278.80" font-size="11.77" fill="#1a1a1a" textLength="21.24" lengthAdjust="spacingAndGlyphs" >-0.1</text>
<line x1="326.00" y1="261.40" x2="326.00" y2="265.00" stroke="#262626" stroke-width="0.9"/>
<text x="322.75" y="278.80" font-size="11.77" fill="#1a1a1a" textLength="6.51" lengthAdjust="spacingAndGlyphs" >0</text>
<text x="154.29" y="294.90" font-size="11.77" fill="#1a1a1a" textLength="128.61" lengthAdjust="spacingAndGlyphs" >Δ<tspan font-style="italic">Flux</tspan> (mol m<tspan font-size="8.3" dy="-4.6">−2</tspan><tspan dy="4.6"> year</tspan><tspan font-size="8.3" dy="-4.6">−1</tspan><tspan dy="4.6">)</tspan></text>
<line x1="553.7" y1="36.2" x2="553.7" y2="246.1" stroke="#dcdcdc" stroke-width="0.8" stroke-dasharray="3.3 1.8"/>
<line x1="594.2" y1="36.2" x2="594.2" y2="246.1" stroke="#dcdcdc" stroke-width="0.8" stroke-dasharray="3.3 1.8"/>
<line x1="634.7" y1="36.2" x2="634.7" y2="246.1" stroke="#dcdcdc" stroke-width="0.8" stroke-dasharray="3.3 1.8"/>
<line x1="513.2" y1="62.4" x2="675.2" y2="62.4" stroke="#dcdcdc" stroke-width="0.8" stroke-dasharray="3.3 1.8"/>
<line x1="513.2" y1="101.8" x2="675.2" y2="101.8" stroke="#dcdcdc" stroke-width="0.8" stroke-dasharray="3.3 1.8"/>
<line x1="513.2" y1="141.2" x2="675.2" y2="141.2" stroke="#dcdcdc" stroke-width="0.8" stroke-dasharray="3.3 1.8"/>
<line x1="513.2" y1="180.5" x2="675.2" y2="180.5" stroke="#dcdcdc" stroke-width="0.8" stroke-dasharray="3.3 1.8"/>
<line x1="513.2" y1="219.9" x2="675.2" y2="219.9" stroke="#dcdcdc" stroke-width="0.8" stroke-dasharray="3.3 1.8"/>
<defs><clipPath id="bc"><rect x="513.2" y="36.2" width="162.0" height="209.9"/></clipPath></defs>
<g clip-path="url(#bc)">
<path d="M673.8 37.0C673.0 38.1 669.9 42.0 668.8 43.9C667.6 45.8 667.0 46.7 666.9 48.4C666.8 50.1 668.2 52.5 668.1 53.9C668.0 55.3 667.9 55.6 666.4 56.8C664.9 57.9 661.6 59.4 658.9 60.8C656.2 62.2 652.4 63.3 650.2 65.0C648.1 66.7 647.5 69.3 646.0 71.2C644.5 73.1 643.1 74.3 641.5 76.2C639.9 78.1 637.7 80.3 636.6 82.4C635.5 84.5 634.8 86.9 634.8 88.6C634.8 90.2 635.1 90.8 636.6 92.3C638.1 93.8 641.7 95.6 644.0 97.3C646.3 99.0 648.8 100.8 650.2 102.3C651.7 103.8 652.7 105.0 652.7 106.5C652.7 108.0 651.7 109.6 650.2 111.0C648.8 112.4 646.1 113.3 644.0 114.7C641.9 116.1 638.9 117.9 637.8 119.6C636.6 121.2 636.3 123.2 637.1 124.6C637.9 126.0 640.4 126.6 642.8 127.8C645.2 129.0 648.8 130.7 651.5 132.0C654.2 133.3 657.0 134.6 658.9 135.8C660.8 137.0 661.8 138.2 662.6 139.2C663.4 140.2 664.7 140.2 663.9 141.7C663.1 143.1 661.0 145.8 657.7 147.9C654.4 150.0 647.3 152.2 644.0 154.1C640.7 156.0 638.9 157.4 637.8 159.1C636.6 160.8 636.7 162.4 637.1 164.1C637.5 165.8 639.6 167.2 640.3 169.0C641.0 170.8 642.1 172.9 641.5 175.2C640.9 177.5 639.5 180.8 636.6 182.7C633.7 184.6 629.6 185.1 624.2 186.4C618.8 187.7 610.9 189.2 604.3 190.6C597.7 192.0 590.7 193.6 584.5 195.1C578.3 196.6 572.3 198.1 567.1 199.6C561.9 201.1 556.4 202.4 553.4 203.8C550.4 205.2 549.0 206.8 549.2 208.2C549.4 209.6 550.5 210.7 554.7 212.0C558.9 213.3 567.0 214.9 574.5 216.2C582.0 217.5 591.1 218.8 599.4 219.9C607.7 221.0 615.9 221.9 624.2 222.9C632.5 223.9 642.4 224.9 649.0 226.1C655.6 227.2 660.2 228.4 663.9 229.8C667.6 231.2 669.6 232.9 671.3 234.8C672.9 236.7 673.2 239.1 673.8 241.0C674.3 242.9 674.5 245.2 674.6 246.1" fill="none" stroke="#3d9fdf" stroke-width="2" stroke-linejoin="round"/>
<path d="M561.0 36.2C561.6 36.8 563.7 39.1 564.8 40.0C565.9 40.9 567.3 41.0 567.5 41.6C567.7 42.2 565.4 43.2 565.9 43.8C566.4 44.4 568.6 44.8 570.2 45.4C571.8 46.0 574.0 46.9 575.6 47.6C577.2 48.3 578.7 49.0 580.0 49.7C581.3 50.4 581.9 51.4 583.2 51.9C584.5 52.4 586.1 52.7 587.6 53.0C589.1 53.3 592.4 53.1 592.4 53.5C592.4 53.9 587.9 54.6 587.6 55.2C587.3 55.8 589.4 56.4 590.8 57.0C592.2 57.6 594.6 58.0 596.2 58.7C597.8 59.4 599.5 60.2 600.6 61.1C601.7 62.0 601.9 63.0 602.8 63.8C603.7 64.6 605.0 65.4 606.0 66.0C607.0 66.6 608.2 67.0 608.7 67.6C609.2 68.2 608.5 69.2 609.3 69.8C610.1 70.3 612.3 70.5 613.6 70.9C614.9 71.3 616.3 71.3 616.9 72.0C617.5 72.7 617.9 74.1 617.4 75.2C616.9 76.3 615.1 77.4 613.6 78.5C612.1 79.6 610.0 80.6 608.2 81.8C606.4 83.0 604.4 84.4 602.8 85.6C601.2 86.8 600.1 87.7 598.4 88.8C596.7 89.9 594.9 90.8 592.8 92.0C590.7 93.2 588.1 94.7 585.8 96.0C583.5 97.3 580.7 99.1 578.8 100.1C576.9 101.1 575.8 101.2 574.2 101.9C572.7 102.6 570.8 103.3 569.5 104.2C568.2 105.1 566.8 106.0 566.6 107.1C566.4 108.2 567.7 109.4 568.4 110.6C569.1 111.8 569.8 112.9 570.7 114.1C571.6 115.3 572.9 116.6 573.6 117.6C574.3 118.6 574.8 119.0 574.8 119.9C574.8 120.8 574.3 121.8 573.6 122.8C572.9 123.8 572.2 124.8 570.7 125.7C569.2 126.6 567.2 127.2 564.9 128.0C562.6 128.8 559.4 129.5 556.7 130.3C554.0 131.1 551.1 131.9 548.6 132.7C546.1 133.5 543.4 134.3 541.6 135.0C539.9 135.7 539.2 135.6 538.1 136.7C537.0 137.8 534.3 140.1 534.7 141.4C535.1 142.7 538.0 143.5 540.5 144.7C543.0 145.9 547.0 147.5 549.9 148.8C552.8 150.1 555.3 151.2 558.0 152.3C560.7 153.4 563.9 154.2 566.2 155.2C568.5 156.2 570.1 156.8 572.0 158.1C573.9 159.4 576.6 161.2 577.3 162.8C578.0 164.5 576.6 166.2 576.1 168.0C575.6 169.8 574.4 172.2 574.4 173.9C574.4 175.7 574.9 177.2 576.1 178.5C577.3 179.8 579.0 180.7 581.4 182.0C583.8 183.3 587.6 184.9 590.7 186.1C593.8 187.3 597.4 188.2 600.1 189.0C602.8 189.8 602.7 189.4 607.1 190.8C611.5 192.2 619.7 195.4 626.7 197.6C633.7 199.8 643.4 201.7 649.0 203.8C654.6 205.9 659.4 208.2 660.2 210.0C661.0 211.8 658.4 213.2 654.0 214.9C649.6 216.6 640.7 218.2 634.1 219.9C627.5 221.6 621.2 222.6 614.2 224.9C607.2 227.2 598.5 231.1 591.9 233.6C585.3 236.1 579.9 238.2 574.5 239.8C569.1 241.5 564.6 242.4 559.6 243.5C554.6 244.6 547.2 245.7 544.7 246.1" fill="none" stroke="#e67e22" stroke-width="2" stroke-dasharray="7.4 3.2"/>
</g>
<line x1="513.2" y1="36.2" x2="513.2" y2="246.1" stroke="#262626" stroke-width="1"/>
<line x1="675.2" y1="36.2" x2="675.2" y2="246.1" stroke="#262626" stroke-width="1"/>
<line x1="512.7" y1="36.2" x2="675.7" y2="36.2" stroke="#e67e22" stroke-width="1.1"/>
<line x1="512.7" y1="246.1" x2="675.7" y2="246.1" stroke="#e67e22" stroke-width="1.1"/>
<line x1="513.2" y1="36.2" x2="513.2" y2="32.4" stroke="#e67e22" stroke-width="1"/>
<text x="509.65" y="25.80" font-size="12.83" fill="#e67e22" textLength="7.09" lengthAdjust="spacingAndGlyphs" >4</text>
<line x1="553.7" y1="36.2" x2="553.7" y2="32.4" stroke="#e67e22" stroke-width="1"/>
<text x="550.02" y="25.80" font-size="12.83" fill="#e67e22" textLength="7.34" lengthAdjust="spacingAndGlyphs" >6</text>
<line x1="594.2" y1="36.2" x2="594.2" y2="32.4" stroke="#e67e22" stroke-width="1"/>
<text x="590.62" y="25.80" font-size="12.83" fill="#e67e22" textLength="7.16" lengthAdjust="spacingAndGlyphs" >8</text>
<line x1="634.7" y1="36.2" x2="634.7" y2="32.4" stroke="#e67e22" stroke-width="1"/>
<text x="627.32" y="25.80" font-size="12.83" fill="#e67e22" textLength="14.80" lengthAdjust="spacingAndGlyphs" >10</text>
<line x1="675.2" y1="36.2" x2="675.2" y2="32.4" stroke="#e67e22" stroke-width="1"/>
<text x="667.84" y="25.80" font-size="12.83" fill="#e67e22" textLength="14.50" lengthAdjust="spacingAndGlyphs" >12</text>
<line x1="513.2" y1="246.1" x2="513.2" y2="249.9" stroke="#3d9fdf" stroke-width="1"/>
<text x="495.24" y="263.60" font-size="12.83" fill="#3d9fdf" textLength="36.26" lengthAdjust="spacingAndGlyphs" >−10.0</text>
<line x1="553.7" y1="246.1" x2="553.7" y2="249.9" stroke="#3d9fdf" stroke-width="1"/>
<text x="539.59" y="263.60" font-size="12.83" fill="#3d9fdf" textLength="28.35" lengthAdjust="spacingAndGlyphs" >−7.5</text>
<line x1="594.2" y1="246.1" x2="594.2" y2="249.9" stroke="#3d9fdf" stroke-width="1"/>
<text x="580.08" y="263.60" font-size="12.83" fill="#3d9fdf" textLength="28.57" lengthAdjust="spacingAndGlyphs" >−5.0</text>
<line x1="634.7" y1="246.1" x2="634.7" y2="249.9" stroke="#3d9fdf" stroke-width="1"/>
<text x="620.59" y="263.60" font-size="12.83" fill="#3d9fdf" textLength="28.35" lengthAdjust="spacingAndGlyphs" >−2.5</text>
<line x1="675.2" y1="246.1" x2="675.2" y2="249.9" stroke="#3d9fdf" stroke-width="1"/>
<text x="665.85" y="263.60" font-size="12.83" fill="#3d9fdf" textLength="18.69" lengthAdjust="spacingAndGlyphs" >0.0</text>
<line x1="509.4" y1="62.4" x2="513.2" y2="62.4" stroke="#262626" stroke-width="1"/>
<text x="505.59" y="67.10" font-size="12.83" text-anchor="end" fill="#1a1a1a" textLength="29.63" lengthAdjust="spacingAndGlyphs">60<tspan font-size="8.98" dy="-4.2">o</tspan><tspan dy="4.2">N</tspan></text>
<line x1="509.4" y1="101.8" x2="513.2" y2="101.8" stroke="#262626" stroke-width="1"/>
<text x="505.59" y="106.48" font-size="12.83" text-anchor="end" fill="#1a1a1a" textLength="29.63" lengthAdjust="spacingAndGlyphs">30<tspan font-size="8.98" dy="-4.2">o</tspan><tspan dy="4.2">N</tspan></text>
<line x1="509.4" y1="141.2" x2="513.2" y2="141.2" stroke="#262626" stroke-width="1"/>
<text x="504.88" y="145.85" font-size="12.83" text-anchor="end" fill="#1a1a1a" textLength="12.88" lengthAdjust="spacingAndGlyphs">0<tspan font-size="8.98" dy="-4.2">o</tspan><tspan dy="4.2"></tspan></text>
<line x1="509.4" y1="180.5" x2="513.2" y2="180.5" stroke="#262626" stroke-width="1"/>
<text x="505.37" y="185.22" font-size="12.83" text-anchor="end" fill="#1a1a1a" textLength="28.26" lengthAdjust="spacingAndGlyphs">30<tspan font-size="8.98" dy="-4.2">o</tspan><tspan dy="4.2">S</tspan></text>
<line x1="509.4" y1="219.9" x2="513.2" y2="219.9" stroke="#262626" stroke-width="1"/>
<text x="505.37" y="224.60" font-size="12.83" text-anchor="end" fill="#1a1a1a" textLength="28.26" lengthAdjust="spacingAndGlyphs">60<tspan font-size="8.98" dy="-4.2">o</tspan><tspan dy="4.2">S</tspan></text>
<text x="560.13" y="11.70" font-size="12.83" fill="#e67e22" textLength="68.44" lengthAdjust="spacingAndGlyphs" ><tspan font-style="italic">U</tspan><tspan font-size="8.98" dy="2.6">10</tspan><tspan dy="-2.6"> (m s</tspan><tspan font-size="8.98" dy="-4.8">−1</tspan><tspan dy="4.8">)</tspan></text>
<text x="542.53" y="281.90" font-size="12.83" fill="#3d9fdf" textLength="104.04" lengthAdjust="spacingAndGlyphs" >Δ<tspan font-style="italic">Flux</tspan> (Tg C yr<tspan font-size="8.98" dy="-4.8">−1</tspan><tspan dy="4.8">)</tspan></text>
<line x1="113.1" y1="324.0" x2="113.1" y2="481.0" stroke="#dcdcdc" stroke-width="0.8" stroke-dasharray="3.3 1.8"/>
<line x1="160.9" y1="324.0" x2="160.9" y2="481.0" stroke="#dcdcdc" stroke-width="0.8" stroke-dasharray="3.3 1.8"/>
<line x1="208.8" y1="324.0" x2="208.8" y2="481.0" stroke="#dcdcdc" stroke-width="0.8" stroke-dasharray="3.3 1.8"/>
<line x1="256.6" y1="324.0" x2="256.6" y2="481.0" stroke="#dcdcdc" stroke-width="0.8" stroke-dasharray="3.3 1.8"/>
<line x1="304.4" y1="324.0" x2="304.4" y2="481.0" stroke="#dcdcdc" stroke-width="0.8" stroke-dasharray="3.3 1.8"/>
<line x1="352.3" y1="324.0" x2="352.3" y2="481.0" stroke="#dcdcdc" stroke-width="0.8" stroke-dasharray="3.3 1.8"/>
<line x1="65.3" y1="376.3" x2="361.5" y2="376.3" stroke="#dcdcdc" stroke-width="0.8" stroke-dasharray="3.3 1.8"/>
<line x1="65.3" y1="428.7" x2="361.5" y2="428.7" stroke="#dcdcdc" stroke-width="0.8" stroke-dasharray="3.3 1.8"/>
<path d="M74.6 349.9L84.5 348.4L93.9 360.4L103.5 359.6L113.2 362.2L122.6 364.2L132.2 376.0L141.6 399.0L151.5 386.3L160.7 383.6L170.3 383.2L180.0 387.1L189.6 384.7L199.0 389.1L208.5 387.6L218.2 399.9L227.8 410.9L237.4 402.9L247.0 396.4L256.5 416.0L266.1 415.1L275.7 412.5L285.3 416.5L294.6 414.4L304.4 422.3L314.0 426.3L323.3 428.6L332.7 429.6L342.5 425.4L352.1 435.6" fill="none" stroke="#fb2b5d" stroke-width="2"/>
<circle cx="74.6" cy="349.9" r="4.1" fill="#fb2b5d"/>
<circle cx="84.5" cy="348.4" r="4.1" fill="#fb2b5d"/>
<circle cx="93.9" cy="360.4" r="4.1" fill="#fb2b5d"/>
<circle cx="103.5" cy="359.6" r="4.1" fill="#fb2b5d"/>
<circle cx="113.2" cy="362.2" r="4.1" fill="#fb2b5d"/>
<circle cx="122.6" cy="364.2" r="4.1" fill="#fb2b5d"/>
<circle cx="132.2" cy="376.0" r="4.1" fill="#fb2b5d"/>
<circle cx="141.6" cy="399.0" r="4.1" fill="#fb2b5d"/>
<circle cx="151.5" cy="386.3" r="4.1" fill="#fb2b5d"/>
<circle cx="160.7" cy="383.6" r="4.1" fill="#fb2b5d"/>
<circle cx="170.3" cy="383.2" r="4.1" fill="#fb2b5d"/>
<circle cx="180.0" cy="387.1" r="4.1" fill="#fb2b5d"/>
<circle cx="189.6" cy="384.7" r="4.1" fill="#fb2b5d"/>
<circle cx="199.0" cy="389.1" r="4.1" fill="#fb2b5d"/>
<circle cx="208.5" cy="387.6" r="4.1" fill="#fb2b5d"/>
<circle cx="218.2" cy="399.9" r="4.1" fill="#fb2b5d"/>
<circle cx="227.8" cy="410.9" r="4.1" fill="#fb2b5d"/>
<circle cx="237.4" cy="402.9" r="4.1" fill="#fb2b5d"/>
<circle cx="247.0" cy="396.4" r="4.1" fill="#fb2b5d"/>
<circle cx="256.5" cy="416.0" r="4.1" fill="#fb2b5d"/>
<circle cx="266.1" cy="415.1" r="4.1" fill="#fb2b5d"/>
<circle cx="275.7" cy="412.5" r="4.1" fill="#fb2b5d"/>
<circle cx="285.3" cy="416.5" r="4.1" fill="#fb2b5d"/>
<circle cx="294.6" cy="414.4" r="4.1" fill="#fb2b5d"/>
<circle cx="304.4" cy="422.3" r="4.1" fill="#fb2b5d"/>
<circle cx="314.0" cy="426.3" r="4.1" fill="#fb2b5d"/>
<circle cx="323.3" cy="428.6" r="4.1" fill="#fb2b5d"/>
<circle cx="332.7" cy="429.6" r="4.1" fill="#fb2b5d"/>
<circle cx="342.5" cy="425.4" r="4.1" fill="#fb2b5d"/>
<circle cx="352.1" cy="435.6" r="4.1" fill="#fb2b5d"/>
<rect x="65.3" y="324.0" width="296.2" height="157.0" fill="none" stroke="#262626" stroke-width="1"/>
<line x1="61.5" y1="324.0" x2="65.3" y2="324.0" stroke="#262626" stroke-width="1"/>
<text x="20.30" y="329.00" font-size="12.83" fill="#1a1a1a" textLength="36.26" lengthAdjust="spacingAndGlyphs" >−0.30</text>
<line x1="61.5" y1="376.3" x2="65.3" y2="376.3" stroke="#262626" stroke-width="1"/>
<text x="20.30" y="381.33" font-size="12.83" fill="#1a1a1a" textLength="36.04" lengthAdjust="spacingAndGlyphs" >−0.35</text>
<line x1="61.5" y1="428.7" x2="65.3" y2="428.7" stroke="#262626" stroke-width="1"/>
<text x="20.30" y="433.66" font-size="12.83" fill="#1a1a1a" textLength="36.26" lengthAdjust="spacingAndGlyphs" >−0.40</text>
<line x1="61.5" y1="481.0" x2="65.3" y2="481.0" stroke="#262626" stroke-width="1"/>
<text x="20.30" y="485.99" font-size="12.83" fill="#1a1a1a" textLength="36.04" lengthAdjust="spacingAndGlyphs" >−0.45</text>
<line x1="65.2" y1="481.0" x2="65.2" y2="484.8" stroke="#262626" stroke-width="1"/>
<text x="50.10" y="498.20" font-size="12.83" fill="#1a1a1a" textLength="30.24" lengthAdjust="spacingAndGlyphs" >1990</text>
<line x1="113.1" y1="481.0" x2="113.1" y2="484.8" stroke="#262626" stroke-width="1"/>
<text x="97.96" y="498.20" font-size="12.83" fill="#1a1a1a" textLength="30.01" lengthAdjust="spacingAndGlyphs" >1995</text>
<line x1="160.9" y1="481.0" x2="160.9" y2="484.8" stroke="#262626" stroke-width="1"/>
<text x="145.70" y="498.20" font-size="12.83" fill="#1a1a1a" textLength="30.33" lengthAdjust="spacingAndGlyphs" >2000</text>
<line x1="208.8" y1="481.0" x2="208.8" y2="484.8" stroke="#262626" stroke-width="1"/>
<text x="193.56" y="498.20" font-size="12.83" fill="#1a1a1a" textLength="30.11" lengthAdjust="spacingAndGlyphs" >2005</text>
<line x1="256.6" y1="481.0" x2="256.6" y2="484.8" stroke="#262626" stroke-width="1"/>
<text x="241.40" y="498.20" font-size="12.83" fill="#1a1a1a" textLength="30.33" lengthAdjust="spacingAndGlyphs" >2010</text>
<line x1="304.4" y1="481.0" x2="304.4" y2="484.8" stroke="#262626" stroke-width="1"/>
<text x="289.26" y="498.20" font-size="12.83" fill="#1a1a1a" textLength="30.11" lengthAdjust="spacingAndGlyphs" >2015</text>
<line x1="352.3" y1="481.0" x2="352.3" y2="484.8" stroke="#262626" stroke-width="1"/>
<text x="337.10" y="498.20" font-size="12.83" fill="#1a1a1a" textLength="30.33" lengthAdjust="spacingAndGlyphs" >2020</text>
<text x="200.33" y="515.00" font-size="12.83" fill="#1a1a1a" textLength="26.13" lengthAdjust="spacingAndGlyphs" >Year</text>
<text transform="translate(13.30 401.20) rotate(-90)" x="-51.27" y="0" font-size="12.83" fill="#1a1a1a" textLength="102.54" lengthAdjust="spacingAndGlyphs">Δ<tspan font-style="italic">Flux</tspan> (Pg C yr<tspan font-size="8.98" dy="-4.8">−1</tspan><tspan dy="4.8">)</tspan></text>
<line x1="479.1" y1="323.7" x2="479.1" y2="480.5" stroke="#dcdcdc" stroke-width="0.8" stroke-dasharray="3.3 1.8"/>
<line x1="496.2" y1="323.7" x2="496.2" y2="480.5" stroke="#dcdcdc" stroke-width="0.8" stroke-dasharray="3.3 1.8"/>
<line x1="513.3" y1="323.7" x2="513.3" y2="480.5" stroke="#dcdcdc" stroke-width="0.8" stroke-dasharray="3.3 1.8"/>
<line x1="530.4" y1="323.7" x2="530.4" y2="480.5" stroke="#dcdcdc" stroke-width="0.8" stroke-dasharray="3.3 1.8"/>
<line x1="547.5" y1="323.7" x2="547.5" y2="480.5" stroke="#dcdcdc" stroke-width="0.8" stroke-dasharray="3.3 1.8"/>
<line x1="564.6" y1="323.7" x2="564.6" y2="480.5" stroke="#dcdcdc" stroke-width="0.8" stroke-dasharray="3.3 1.8"/>
<line x1="581.7" y1="323.7" x2="581.7" y2="480.5" stroke="#dcdcdc" stroke-width="0.8" stroke-dasharray="3.3 1.8"/>
<line x1="598.8" y1="323.7" x2="598.8" y2="480.5" stroke="#dcdcdc" stroke-width="0.8" stroke-dasharray="3.3 1.8"/>
<line x1="615.9" y1="323.7" x2="615.9" y2="480.5" stroke="#dcdcdc" stroke-width="0.8" stroke-dasharray="3.3 1.8"/>
<line x1="633.0" y1="323.7" x2="633.0" y2="480.5" stroke="#dcdcdc" stroke-width="0.8" stroke-dasharray="3.3 1.8"/>
<line x1="650.1" y1="323.7" x2="650.1" y2="480.5" stroke="#dcdcdc" stroke-width="0.8" stroke-dasharray="3.3 1.8"/>
<line x1="667.2" y1="323.7" x2="667.2" y2="480.5" stroke="#dcdcdc" stroke-width="0.8" stroke-dasharray="3.3 1.8"/>
<line x1="470.5" y1="350.5" x2="675.5" y2="350.5" stroke="#dcdcdc" stroke-width="0.8" stroke-dasharray="3.3 1.8"/>
<line x1="470.5" y1="402.5" x2="675.5" y2="402.5" stroke="#dcdcdc" stroke-width="0.8" stroke-dasharray="3.3 1.8"/>
<line x1="470.5" y1="454.5" x2="675.5" y2="454.5" stroke="#dcdcdc" stroke-width="0.8" stroke-dasharray="3.3 1.8"/>
<path d="M479.0 391.5L495.8 387.4L513.0 374.4L530.1 357.8L547.3 342.7L564.1 339.0L581.5 337.5L598.3 336.2L615.5 341.8L632.5 355.7L649.7 374.8L666.9 391.0" fill="none" stroke="#4eec78" stroke-width="2"/>
<rect x="474.9" y="387.4" width="8.2" height="8.2" fill="#4eec78"/>
<rect x="491.7" y="383.3" width="8.2" height="8.2" fill="#4eec78"/>
<rect x="508.9" y="370.3" width="8.2" height="8.2" fill="#4eec78"/>
<rect x="526.0" y="353.7" width="8.2" height="8.2" fill="#4eec78"/>
<rect x="543.2" y="338.6" width="8.2" height="8.2" fill="#4eec78"/>
<rect x="560.0" y="334.9" width="8.2" height="8.2" fill="#4eec78"/>
<rect x="577.4" y="333.4" width="8.2" height="8.2" fill="#4eec78"/>
<rect x="594.2" y="332.1" width="8.2" height="8.2" fill="#4eec78"/>
<rect x="611.4" y="337.7" width="8.2" height="8.2" fill="#4eec78"/>
<rect x="628.4" y="351.6" width="8.2" height="8.2" fill="#4eec78"/>
<rect x="645.6" y="370.7" width="8.2" height="8.2" fill="#4eec78"/>
<rect x="662.8" y="386.9" width="8.2" height="8.2" fill="#4eec78"/>
<path d="M479.0 395.6L495.8 404.3L513.0 416.8L530.1 429.0L547.3 441.8L564.1 452.2L581.5 459.8L598.1 454.8L615.8 445.3L632.6 426.3L650.0 406.4L666.8 394.8" fill="none" stroke="#a956cc" stroke-width="2" stroke-dasharray="7 3"/>
<circle cx="479.0" cy="395.6" r="4.2" fill="#a956cc"/>
<circle cx="495.8" cy="404.3" r="4.2" fill="#a956cc"/>
<circle cx="513.0" cy="416.8" r="4.2" fill="#a956cc"/>
<circle cx="530.1" cy="429.0" r="4.2" fill="#a956cc"/>
<circle cx="547.3" cy="441.8" r="4.2" fill="#a956cc"/>
<circle cx="564.1" cy="452.2" r="4.2" fill="#a956cc"/>
<circle cx="581.5" cy="459.8" r="4.2" fill="#a956cc"/>
<circle cx="598.1" cy="454.8" r="4.2" fill="#a956cc"/>
<circle cx="615.8" cy="445.3" r="4.2" fill="#a956cc"/>
<circle cx="632.6" cy="426.3" r="4.2" fill="#a956cc"/>
<circle cx="650.0" cy="406.4" r="4.2" fill="#a956cc"/>
<circle cx="666.8" cy="394.8" r="4.2" fill="#a956cc"/>
<rect x="470.5" y="323.7" width="205.0" height="156.8" fill="none" stroke="#262626" stroke-width="1"/>
<line x1="466.7" y1="350.5" x2="470.5" y2="350.5" stroke="#262626" stroke-width="1"/>
<text x="433.40" y="355.20" font-size="12.83" fill="#1a1a1a" textLength="28.39" lengthAdjust="spacingAndGlyphs" >−0.1</text>
<line x1="466.7" y1="402.5" x2="470.5" y2="402.5" stroke="#262626" stroke-width="1"/>
<text x="433.40" y="407.20" font-size="12.83" fill="#1a1a1a" textLength="28.31" lengthAdjust="spacingAndGlyphs" >−0.2</text>
<line x1="466.7" y1="454.5" x2="470.5" y2="454.5" stroke="#262626" stroke-width="1"/>
<text x="433.39" y="459.20" font-size="12.83" fill="#1a1a1a" textLength="28.47" lengthAdjust="spacingAndGlyphs" >−0.3</text>
<line x1="479.1" y1="480.5" x2="479.1" y2="484.3" stroke="#262626" stroke-width="1"/>
<text x="475.66" y="498.10" font-size="12.83" fill="#1a1a1a" textLength="6.78" lengthAdjust="spacingAndGlyphs" >1</text>
<line x1="496.2" y1="480.5" x2="496.2" y2="484.3" stroke="#262626" stroke-width="1"/>
<text x="492.62" y="498.10" font-size="12.83" fill="#1a1a1a" textLength="6.83" lengthAdjust="spacingAndGlyphs" >2</text>
<line x1="513.3" y1="480.5" x2="513.3" y2="484.3" stroke="#262626" stroke-width="1"/>
<text x="509.90" y="498.10" font-size="12.83" fill="#1a1a1a" textLength="6.81" lengthAdjust="spacingAndGlyphs" >3</text>
<line x1="530.4" y1="480.5" x2="530.4" y2="484.3" stroke="#262626" stroke-width="1"/>
<text x="526.85" y="498.10" font-size="12.83" fill="#1a1a1a" textLength="7.09" lengthAdjust="spacingAndGlyphs" >4</text>
<line x1="547.5" y1="480.5" x2="547.5" y2="484.3" stroke="#262626" stroke-width="1"/>
<text x="544.10" y="498.10" font-size="12.83" fill="#1a1a1a" textLength="6.70" lengthAdjust="spacingAndGlyphs" >5</text>
<line x1="564.6" y1="480.5" x2="564.6" y2="484.3" stroke="#262626" stroke-width="1"/>
<text x="560.92" y="498.10" font-size="12.83" fill="#1a1a1a" textLength="7.34" lengthAdjust="spacingAndGlyphs" >6</text>
<line x1="581.7" y1="480.5" x2="581.7" y2="484.3" stroke="#262626" stroke-width="1"/>
<text x="578.21" y="498.10" font-size="12.83" fill="#1a1a1a" textLength="6.94" lengthAdjust="spacingAndGlyphs" >7</text>
<line x1="598.8" y1="480.5" x2="598.8" y2="484.3" stroke="#262626" stroke-width="1"/>
<text x="595.22" y="498.10" font-size="12.83" fill="#1a1a1a" textLength="7.16" lengthAdjust="spacingAndGlyphs" >8</text>
<line x1="615.9" y1="480.5" x2="615.9" y2="484.3" stroke="#262626" stroke-width="1"/>
<text x="612.19" y="498.10" font-size="12.83" fill="#1a1a1a" textLength="7.33" lengthAdjust="spacingAndGlyphs" >9</text>
<line x1="633.0" y1="480.5" x2="633.0" y2="484.3" stroke="#262626" stroke-width="1"/>
<text x="625.62" y="498.10" font-size="12.83" fill="#1a1a1a" textLength="14.80" lengthAdjust="spacingAndGlyphs" >10</text>
<line x1="650.1" y1="480.5" x2="650.1" y2="484.3" stroke="#262626" stroke-width="1"/>
<text x="642.65" y="498.10" font-size="12.83" fill="#1a1a1a" textLength="14.72" lengthAdjust="spacingAndGlyphs" >11</text>
<line x1="667.2" y1="480.5" x2="667.2" y2="484.3" stroke="#262626" stroke-width="1"/>
<text x="659.84" y="498.10" font-size="12.83" fill="#1a1a1a" textLength="14.50" lengthAdjust="spacingAndGlyphs" >12</text>
<text x="554.11" y="514.60" font-size="12.83" fill="#1a1a1a" textLength="37.72" lengthAdjust="spacingAndGlyphs" >Month</text>
<text transform="translate(427.40 401.80) rotate(-90)" x="-50.47" y="0" font-size="12.83" fill="#1a1a1a" textLength="100.94" lengthAdjust="spacingAndGlyphs">Δ<tspan font-style="italic">Flux</tspan> (Pg C yr<tspan font-size="8.98" dy="-4.8">−1</tspan><tspan dy="4.8">)</tspan></text>
<rect x="475.4" y="443.4" width="66.0" height="32.8" rx="2.5" fill="#fff" fill-opacity="0.9" stroke="#cccccc" stroke-width="0.8"/>
<line x1="479.5" y1="451.5" x2="500.5" y2="451.5" stroke="#4eec78" stroke-width="2"/>
<rect x="485.9" y="447.4" width="8.2" height="8.2" fill="#4eec78"/>
<line x1="479.5" y1="466.5" x2="500.5" y2="466.5" stroke="#a956cc" stroke-width="2" stroke-dasharray="7 3"/>
<circle cx="490" cy="466.5" r="4.2" fill="#a956cc"/>
<text x="507.95" y="454.70" font-size="10.92" fill="#1a1a1a" textLength="28.41" lengthAdjust="spacingAndGlyphs" >North</text>
<text x="508.41" y="469.50" font-size="10.92" fill="#1a1a1a" textLength="28.71" lengthAdjust="spacingAndGlyphs" >South</text>
</svg>
</body></html>
